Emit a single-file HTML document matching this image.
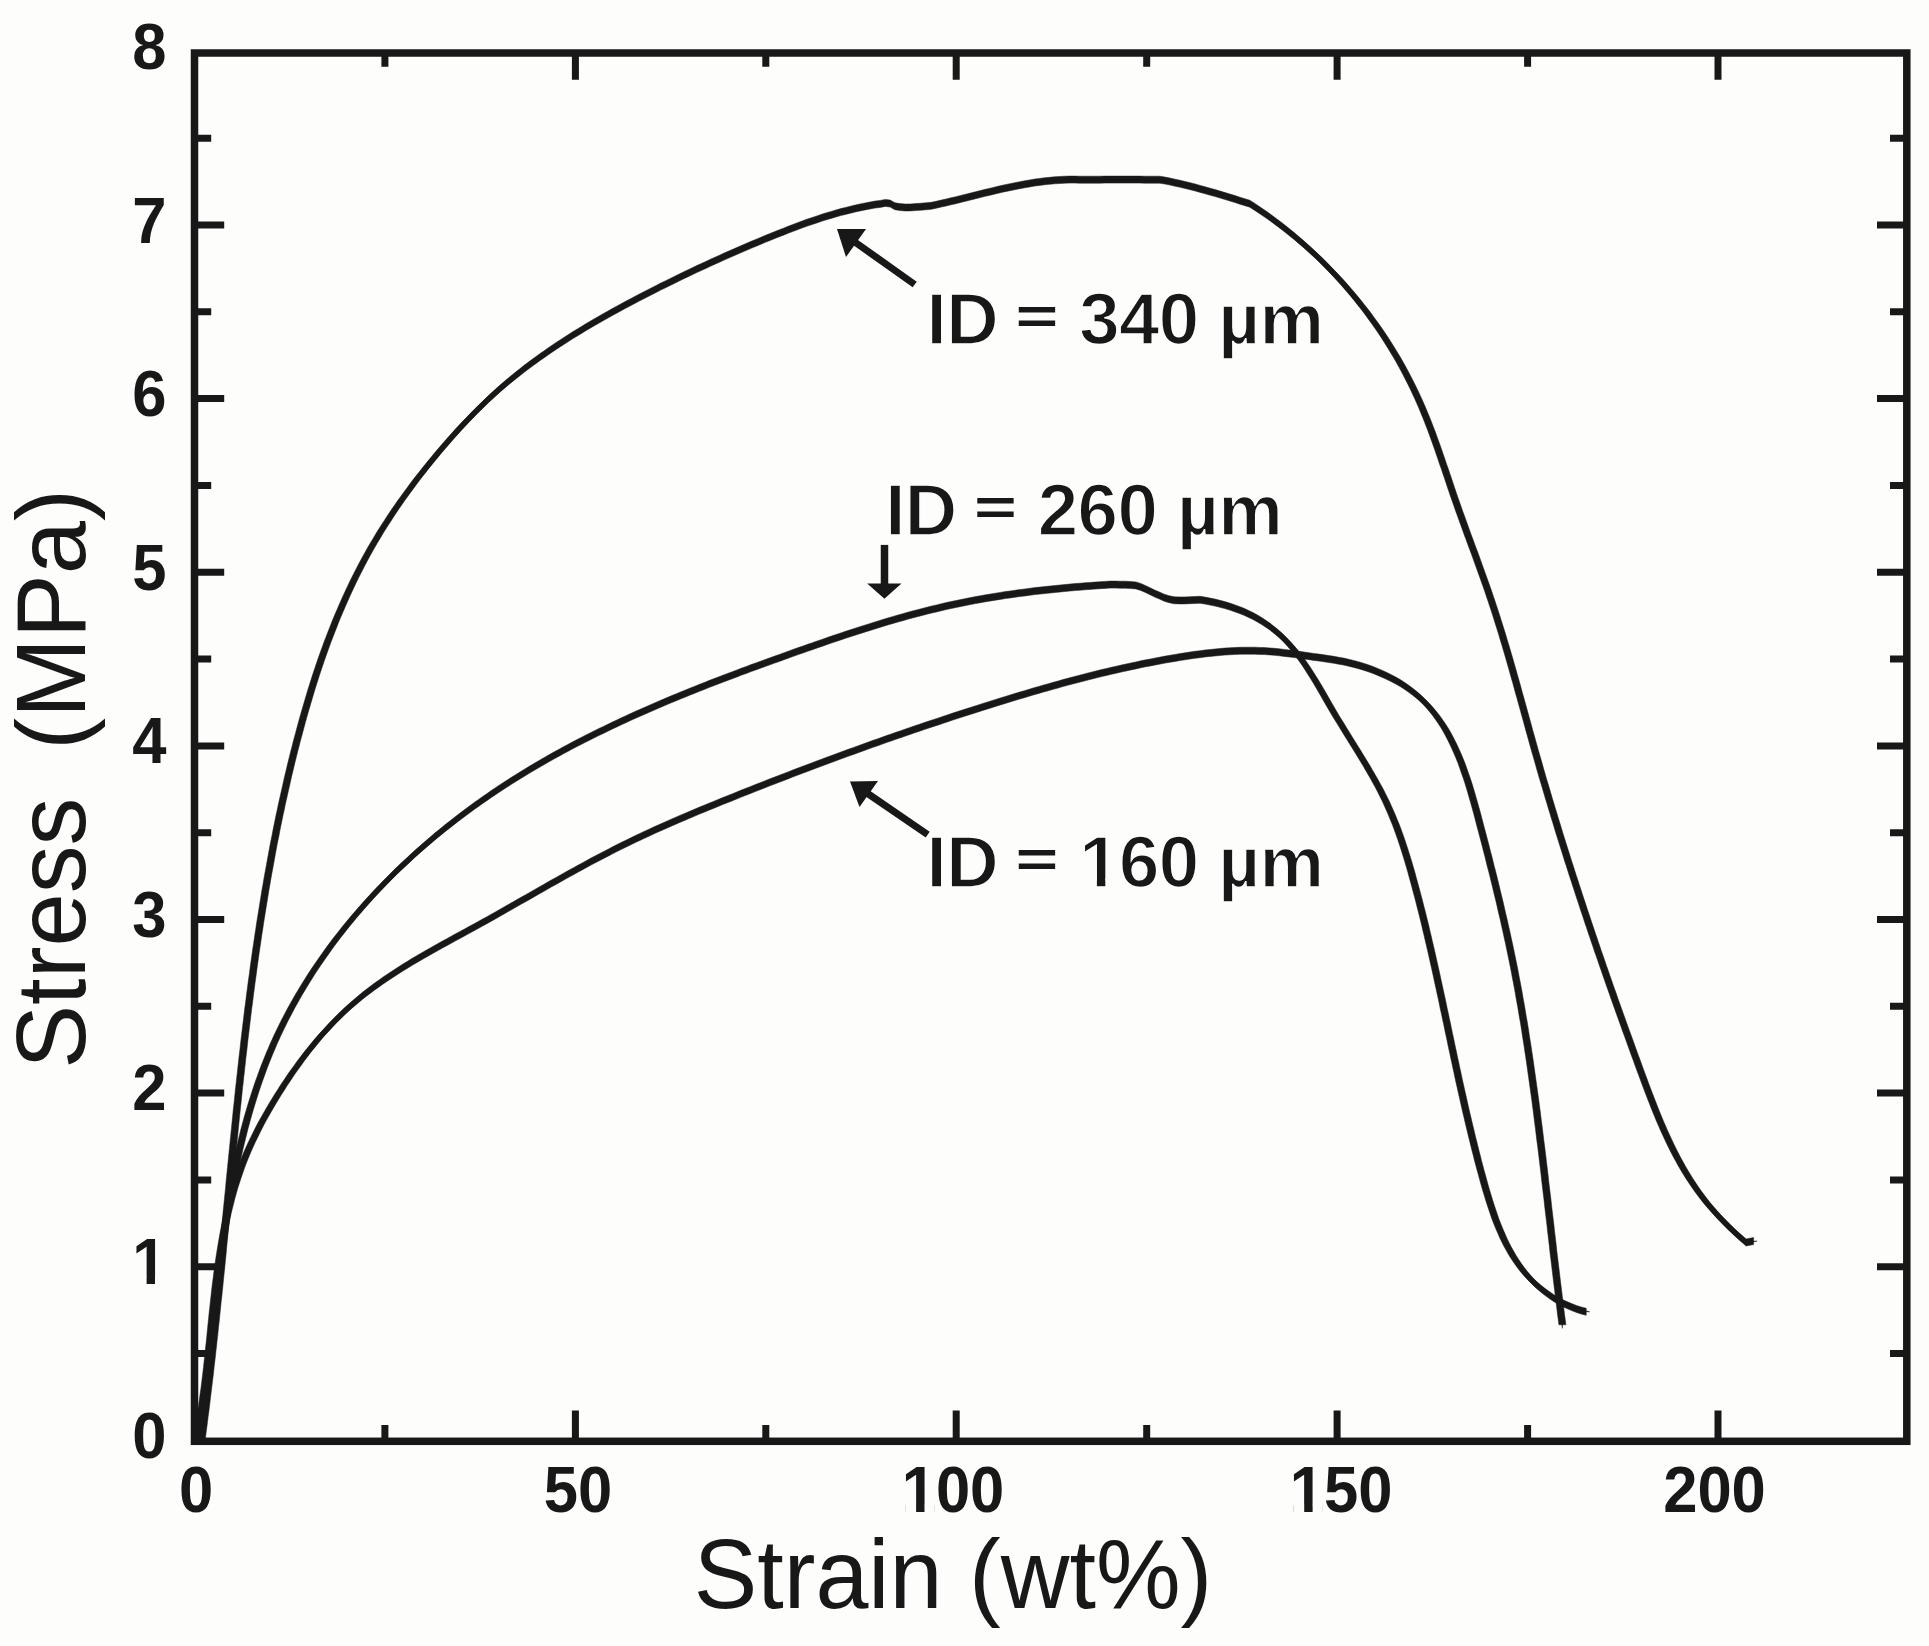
<!DOCTYPE html>
<html lang="en"><head><meta charset="utf-8"><title>Stress-strain curves</title>
<style>html,body{margin:0;padding:0;background:#fdfdfb;}body{width:1929px;height:1646px;overflow:hidden;}svg{display:block;}text{font-family:"Liberation Sans",sans-serif;fill:#181818;}.b{font-weight:700;}</style></head><body>
<svg width="1929" height="1646" viewBox="0 0 1929 1646">
<rect width="1929" height="1646" fill="#fdfdfb"/>
<path d="M197.2 1353.6h14.0M1904.0 1353.6h-14.0M197.2 1266.8h27.0M1904.0 1266.8h-27.0M197.2 1180.0h14.0M1904.0 1180.0h-14.0M197.2 1093.1h27.0M1904.0 1093.1h-27.0M197.2 1006.3h14.0M1904.0 1006.3h-14.0M197.2 919.5h27.0M1904.0 919.5h-27.0M197.2 832.7h14.0M1904.0 832.7h-14.0M197.2 745.9h27.0M1904.0 745.9h-27.0M197.2 659.1h14.0M1904.0 659.1h-14.0M197.2 572.3h27.0M1904.0 572.3h-27.0M197.2 485.4h14.0M1904.0 485.4h-14.0M197.2 398.6h27.0M1904.0 398.6h-27.0M197.2 311.8h14.0M1904.0 311.8h-14.0M197.2 225.0h27.0M1904.0 225.0h-27.0M197.2 138.2h14.0M1904.0 138.2h-14.0M384.9 1438.5v-13.5M384.9 55.8v11.0M575.4 1438.5v-28.0M575.4 55.8v24.0M765.8 1438.5v-13.5M765.8 55.8v11.0M956.2 1438.5v-28.0M956.2 55.8v24.0M1146.7 1438.5v-13.5M1146.7 55.8v11.0M1337.1 1438.5v-28.0M1337.1 55.8v24.0M1527.6 1438.5v-13.5M1527.6 55.8v11.0M1718.0 1438.5v-28.0M1718.0 55.8v24.0" stroke="#181818" stroke-width="7.0" fill="none"/>
<rect x="194.5" y="53.0" width="1712.3" height="1388.3" fill="none" stroke="#181818" stroke-width="7.5"/>
<g fill="#181818" stroke="#181818" stroke-width="0.5" stroke-linejoin="round">
<path d="M201.5 1444.5L202.2 1439.5L202.8 1434.6L203.5 1429.6L204.1 1424.6L204.7 1419.7L205.4 1414.7L206.0 1409.7L206.6 1404.7L207.2 1399.8L207.8 1394.8L208.4 1389.8L209.0 1384.8L209.6 1379.9L210.2 1374.9L210.7 1369.9L211.3 1364.9L211.9 1360.0L212.4 1355.0L213.0 1350.0L213.5 1345.0L214.1 1340.1L214.6 1335.1L215.1 1330.1L215.7 1325.1L216.2 1320.1L216.7 1315.2L217.2 1310.2L217.7 1305.2L218.3 1300.2L218.8 1295.3L219.3 1290.3L219.8 1285.3L220.3 1280.3L220.8 1275.3L221.3 1270.4L221.8 1265.4L222.3 1260.4L222.8 1255.4L223.2 1250.4L223.7 1245.5L224.2 1240.5L224.7 1235.5L225.2 1230.5L225.7 1225.5L226.2 1220.6L226.6 1215.6L227.1 1210.6L227.6 1205.6L228.1 1200.6L228.6 1195.7L229.1 1190.7L229.5 1185.7L230.0 1180.7L230.5 1175.7L231.0 1170.8L231.5 1165.8L232.0 1160.8L232.5 1155.8L233.0 1150.9L233.5 1145.9L234.0 1140.9L234.5 1135.9L235.0 1130.9L235.5 1126.0L236.0 1121.0L236.5 1116.0L237.0 1111.0L237.6 1106.1L238.1 1101.1L238.6 1096.1L239.1 1091.1L239.7 1086.2L240.2 1081.2L240.8 1076.2L241.3 1071.2L241.9 1066.3L242.4 1061.3L243.0 1056.3L243.6 1051.4L244.1 1046.4L244.7 1041.4L245.3 1036.4L245.9 1031.5L246.5 1026.5L247.1 1021.5L247.7 1016.6L248.3 1011.6L249.0 1006.6L249.6 1001.7L250.2 996.7L250.9 991.7L251.5 986.8L252.2 981.8L252.9 976.9L253.5 971.9L254.2 966.9L254.9 962.0L255.6 957.0L256.3 952.1L257.1 947.1L257.8 942.1L258.5 937.2L259.3 932.2L260.0 927.3L260.8 922.3L261.6 917.4L262.4 912.4L263.2 907.5L264.0 902.5L264.8 897.6L265.6 892.6L266.5 887.7L267.3 882.8L268.2 877.8L269.1 872.9L270.0 868.0L270.9 863.0L271.8 858.1L272.7 853.2L273.6 848.2L274.6 843.3L275.6 838.4L276.5 833.5L277.5 828.6L278.5 823.7L279.5 818.8L280.6 813.9L281.6 809.0L282.7 804.1L283.8 799.2L284.9 794.3L286.0 789.4L287.1 784.5L288.2 779.6L289.4 774.8L290.5 769.9L291.7 765.0L292.9 760.2L294.1 755.3L295.4 750.4L296.6 745.6L297.9 740.7L299.2 735.9L300.5 731.1L301.8 726.2L303.1 721.4L304.5 716.6L305.9 711.8L307.3 707.0L308.7 702.2L310.1 697.4L311.6 692.6L313.1 687.8L314.6 683.1L316.1 678.3L317.7 673.6L319.3 668.8L320.9 664.1L322.5 659.4L324.2 654.7L325.9 650.0L327.6 645.3L329.4 640.7L331.2 636.0L333.0 631.4L334.8 626.7L336.7 622.1L338.6 617.5L340.6 612.9L342.5 608.4L344.6 603.8L346.6 599.3L348.7 594.7L350.8 590.2L352.9 585.8L355.1 581.3L357.4 576.8L359.6 572.4L361.9 568.0L364.3 563.6L366.6 559.2L369.1 554.8L371.5 550.5L374.0 546.2L376.6 541.9L379.2 537.6L381.8 533.3L384.5 529.1L387.2 524.9L389.9 520.7L392.7 516.5L395.5 512.3L398.4 508.2L401.2 504.1L404.2 500.0L407.1 495.9L410.1 491.9L413.1 487.8L416.1 483.8L419.2 479.8L422.3 475.9L425.4 471.9L428.6 468.0L431.8 464.1L435.0 460.2L438.2 456.3L441.4 452.5L444.7 448.7L448.0 444.9L451.3 441.1L454.7 437.4L458.0 433.6L461.4 430.0L464.9 426.3L468.3 422.7L471.8 419.1L475.3 415.5L478.8 412.0L482.4 408.5L486.0 405.0L489.6 401.6L493.3 398.2L497.0 394.8L500.7 391.5L504.5 388.3L508.3 385.1L512.1 381.9L516.0 378.8L519.9 375.7L523.8 372.6L527.8 369.6L531.8 366.6L535.8 363.7L539.8 360.7L543.9 357.9L548.0 355.0L552.1 352.2L556.2 349.4L560.4 346.7L564.6 344.0L568.8 341.3L573.0 338.6L577.3 336.0L581.5 333.4L585.8 330.8L590.1 328.2L594.4 325.7L598.8 323.2L603.1 320.7L607.5 318.3L611.9 315.8L616.2 313.4L620.7 311.0L625.1 308.6L629.5 306.3L633.9 303.9L638.4 301.6L642.8 299.3L647.3 297.0L651.7 294.7L656.2 292.4L660.7 290.1L665.2 287.9L669.7 285.7L674.2 283.5L678.7 281.3L683.2 279.1L687.7 276.9L692.2 274.8L696.8 272.6L701.3 270.5L705.9 268.4L710.4 266.3L715.0 264.2L719.5 262.2L724.1 260.1L728.7 258.1L733.3 256.1L737.9 254.1L742.5 252.1L747.1 250.1L751.7 248.1L756.3 246.2L760.9 244.3L765.5 242.3L770.1 240.4L774.8 238.6L779.4 236.7L784.1 234.9L788.7 233.1L793.4 231.3L798.1 229.5L802.7 227.8L807.4 226.1L812.2 224.5L816.9 222.9L821.6 221.3L826.4 219.8L831.2 218.4L835.9 217.0L840.8 215.6L845.6 214.4L850.4 213.2L855.3 212.0L860.2 210.9L865.1 209.9L870.0 209.0L875.0 208.1L880.2 207.4L885.4 206.4L890.2 207.1L894.8 209.7L899.9 210.6L905.2 211.0L910.4 210.9L915.7 210.6L920.9 210.2L926.2 209.8L931.4 209.3L936.3 208.2L941.2 207.1L946.1 206.0L951.0 204.8L955.9 203.7L960.8 202.4L965.7 201.2L970.6 200.0L975.5 198.8L980.4 197.6L985.3 196.3L990.2 195.2L995.1 194.0L1000.1 192.8L1005.0 191.7L1009.9 190.7L1014.8 189.7L1019.8 188.7L1024.7 187.8L1029.7 186.9L1034.6 186.1L1039.6 185.4L1044.6 184.8L1049.6 184.3L1054.6 183.8L1059.6 183.5L1064.7 183.2L1069.7 183.1L1074.8 183.1L1079.9 183.2L1084.9 183.2L1089.9 183.2L1094.9 183.2L1099.9 183.2L1104.9 183.1L1109.9 183.1L1114.9 183.1L1119.9 183.1L1124.9 183.1L1129.9 183.1L1134.9 183.1L1139.9 183.1L1144.9 183.2L1149.9 183.2L1154.9 183.2L1159.9 183.2L1165.0 184.1L1170.1 185.1L1175.1 186.2L1180.2 187.3L1185.2 188.5L1190.2 189.7L1195.2 191.0L1200.2 192.4L1205.2 193.8L1210.2 195.2L1215.2 196.6L1220.1 198.1L1225.1 199.6L1230.0 201.1L1235.0 202.6L1239.9 204.2L1244.9 205.7L1249.8 207.2L1254.0 209.9L1258.2 212.7L1262.3 215.5L1266.4 218.3L1270.5 221.2L1274.5 224.2L1278.5 227.2L1282.5 230.2L1286.4 233.3L1290.3 236.5L1294.2 239.6L1298.0 242.9L1301.8 246.1L1305.6 249.4L1309.3 252.8L1313.0 256.2L1316.7 259.6L1320.3 263.1L1323.9 266.6L1327.4 270.2L1330.9 273.8L1334.4 277.4L1337.8 281.1L1341.2 284.8L1344.6 288.6L1347.9 292.4L1351.2 296.2L1354.4 300.1L1357.6 303.9L1360.7 307.9L1363.8 311.8L1366.9 315.8L1369.9 319.9L1372.8 323.9L1375.8 328.0L1378.6 332.1L1381.5 336.3L1384.3 340.5L1387.0 344.7L1389.7 348.9L1392.3 353.2L1394.9 357.5L1397.5 361.8L1400.0 366.2L1402.4 370.6L1404.8 375.0L1407.1 379.4L1409.4 383.9L1411.7 388.4L1413.9 392.9L1416.0 397.4L1418.1 401.9L1420.1 406.5L1422.1 411.1L1424.0 415.7L1425.9 420.3L1427.8 425.0L1429.6 429.7L1431.4 434.3L1433.1 439.0L1434.8 443.7L1436.5 448.4L1438.2 453.2L1439.8 457.9L1441.4 462.6L1443.0 467.4L1444.7 472.1L1446.3 476.9L1447.9 481.6L1449.5 486.4L1451.1 491.2L1452.7 495.9L1454.3 500.7L1456.0 505.4L1457.6 510.1L1459.3 514.9L1461.0 519.6L1462.7 524.3L1464.4 529.0L1466.1 533.8L1467.8 538.5L1469.6 543.2L1471.3 547.9L1473.0 552.6L1474.8 557.3L1476.5 562.0L1478.2 566.8L1479.9 571.5L1481.6 576.2L1483.3 580.9L1485.0 585.7L1486.7 590.4L1488.3 595.1L1489.9 599.9L1491.5 604.6L1493.1 609.4L1494.7 614.2L1496.2 618.9L1497.7 623.7L1499.2 628.5L1500.7 633.3L1502.2 638.1L1503.6 642.9L1505.1 647.7L1506.5 652.5L1507.9 657.3L1509.3 662.1L1510.7 667.0L1512.1 671.8L1513.4 676.6L1514.8 681.4L1516.2 686.3L1517.5 691.1L1518.8 696.0L1520.2 700.8L1521.5 705.6L1522.9 710.5L1524.2 715.3L1525.5 720.1L1526.9 725.0L1528.2 729.8L1529.5 734.7L1530.9 739.5L1532.2 744.3L1533.6 749.2L1534.9 754.0L1536.3 758.8L1537.7 763.6L1539.1 768.5L1540.4 773.3L1541.8 778.1L1543.2 782.9L1544.7 787.7L1546.1 792.5L1547.5 797.3L1548.9 802.1L1550.4 806.9L1551.8 811.7L1553.3 816.5L1554.7 821.3L1556.2 826.1L1557.7 830.9L1559.1 835.7L1560.6 840.5L1562.1 845.3L1563.6 850.1L1565.1 854.8L1566.6 859.6L1568.1 864.4L1569.7 869.2L1571.2 874.0L1572.7 878.7L1574.3 883.5L1575.8 888.3L1577.4 893.0L1578.9 897.8L1580.5 902.6L1582.1 907.3L1583.6 912.1L1585.2 916.8L1586.8 921.6L1588.4 926.4L1590.0 931.1L1591.6 935.9L1593.2 940.6L1594.8 945.4L1596.4 950.1L1598.0 954.9L1599.7 959.6L1601.3 964.3L1602.9 969.1L1604.6 973.8L1606.2 978.6L1607.9 983.3L1609.5 988.1L1611.2 992.8L1612.9 997.5L1614.5 1002.3L1616.2 1007.0L1617.9 1011.7L1619.6 1016.5L1621.3 1021.2L1623.0 1025.9L1624.7 1030.7L1626.4 1035.4L1628.1 1040.1L1629.8 1044.8L1631.5 1049.6L1633.2 1054.3L1634.9 1059.0L1636.7 1063.7L1638.4 1068.5L1640.1 1073.2L1641.9 1077.9L1643.6 1082.6L1645.3 1087.3L1647.1 1092.1L1648.9 1096.8L1650.7 1101.4L1652.5 1106.1L1654.3 1110.8L1656.2 1115.4L1658.1 1120.1L1660.0 1124.7L1662.0 1129.3L1664.0 1133.9L1666.1 1138.4L1668.2 1142.9L1670.3 1147.4L1672.5 1151.9L1674.7 1156.3L1677.0 1160.7L1679.4 1165.1L1681.8 1169.4L1684.3 1173.7L1686.9 1178.0L1689.5 1182.2L1692.2 1186.3L1695.0 1190.4L1697.8 1194.5L1700.8 1198.5L1703.8 1202.5L1706.9 1206.4L1710.1 1210.2L1713.4 1214.0L1716.8 1217.8L1720.2 1221.5L1723.7 1225.1L1727.3 1228.7L1730.9 1232.3L1734.6 1235.8L1738.4 1239.2L1742.2 1242.6L1746.0 1246.0L1753.6 1244.6L1753.6 1237.6L1746.0 1239.0L1742.2 1235.6L1738.4 1232.2L1734.6 1228.8L1730.9 1225.3L1727.3 1221.7L1723.7 1218.1L1720.2 1214.5L1716.8 1210.8L1713.4 1207.0L1710.1 1203.2L1706.9 1199.4L1703.8 1195.5L1700.8 1191.5L1697.8 1187.5L1695.0 1183.4L1692.2 1179.3L1689.5 1175.2L1686.9 1171.0L1684.3 1166.7L1681.8 1162.4L1679.4 1158.1L1677.0 1153.7L1674.7 1149.3L1672.5 1144.9L1670.3 1140.4L1668.2 1135.9L1666.1 1131.4L1664.0 1126.9L1662.0 1122.3L1660.0 1117.7L1658.1 1113.1L1656.2 1108.4L1654.3 1103.8L1652.5 1099.1L1650.7 1094.4L1648.9 1089.8L1647.1 1085.1L1645.3 1080.3L1643.6 1075.6L1641.9 1070.9L1640.1 1066.2L1638.4 1061.5L1636.7 1056.7L1634.9 1052.0L1633.2 1047.3L1631.5 1042.6L1629.8 1037.8L1628.1 1033.1L1626.4 1028.4L1624.7 1023.7L1623.0 1018.9L1621.3 1014.2L1619.6 1009.5L1617.9 1004.7L1616.2 1000.0L1614.5 995.3L1612.9 990.5L1611.2 985.8L1609.5 981.1L1607.9 976.3L1606.2 971.6L1604.6 966.8L1602.9 962.1L1601.3 957.3L1599.7 952.6L1598.0 947.9L1596.4 943.1L1594.8 938.4L1593.2 933.6L1591.6 928.9L1590.0 924.1L1588.4 919.4L1586.8 914.6L1585.2 909.8L1583.6 905.1L1582.1 900.3L1580.5 895.6L1578.9 890.8L1577.4 886.0L1575.8 881.3L1574.3 876.5L1572.7 871.7L1571.2 867.0L1569.7 862.2L1568.1 857.4L1566.6 852.6L1565.1 847.8L1563.6 843.1L1562.1 838.3L1560.6 833.5L1559.1 828.7L1557.7 823.9L1556.2 819.1L1554.7 814.3L1553.3 809.5L1551.8 804.7L1550.4 799.9L1548.9 795.1L1547.5 790.3L1546.1 785.5L1544.7 780.7L1543.2 775.9L1541.8 771.1L1540.4 766.3L1539.1 761.5L1537.7 756.6L1536.3 751.8L1534.9 747.0L1533.6 742.2L1532.2 737.3L1530.9 732.5L1529.5 727.7L1528.2 722.8L1526.9 718.0L1525.5 713.1L1524.2 708.3L1522.9 703.5L1521.5 698.6L1520.2 693.8L1518.8 689.0L1517.5 684.1L1516.2 679.3L1514.8 674.4L1513.4 669.6L1512.1 664.8L1510.7 660.0L1509.3 655.1L1507.9 650.3L1506.5 645.5L1505.1 640.7L1503.6 635.9L1502.2 631.1L1500.7 626.3L1499.2 621.5L1497.7 616.7L1496.2 611.9L1494.7 607.2L1493.1 602.4L1491.5 597.6L1489.9 592.9L1488.3 588.1L1486.7 583.4L1485.0 578.7L1483.3 573.9L1481.6 569.2L1479.9 564.5L1478.2 559.8L1476.5 555.0L1474.8 550.3L1473.0 545.6L1471.3 540.9L1469.6 536.2L1467.8 531.5L1466.1 526.8L1464.4 522.0L1462.7 517.3L1461.0 512.6L1459.3 507.9L1457.6 503.1L1456.0 498.4L1454.3 493.7L1452.7 488.9L1451.1 484.2L1449.5 479.4L1447.9 474.6L1446.3 469.9L1444.7 465.1L1443.0 460.4L1441.4 455.6L1439.8 450.9L1438.2 446.2L1436.5 441.4L1434.8 436.7L1433.1 432.0L1431.4 427.3L1429.6 422.7L1427.8 418.0L1425.9 413.3L1424.0 408.7L1422.1 404.1L1420.1 399.5L1418.1 394.9L1416.0 390.4L1413.9 385.9L1411.7 381.4L1409.4 376.9L1407.1 372.4L1404.8 368.0L1402.4 363.6L1400.0 359.2L1397.5 354.8L1394.9 350.5L1392.3 346.2L1389.7 341.9L1387.0 337.7L1384.3 333.5L1381.5 329.3L1378.6 325.1L1375.8 321.0L1372.8 316.9L1369.9 312.9L1366.9 308.8L1363.8 304.8L1360.7 300.9L1357.6 296.9L1354.4 293.1L1351.2 289.2L1347.9 285.4L1344.6 281.6L1341.2 277.8L1337.8 274.1L1334.4 270.4L1330.9 266.8L1327.4 263.2L1323.9 259.6L1320.3 256.1L1316.7 252.6L1313.0 249.2L1309.3 245.8L1305.6 242.4L1301.8 239.1L1298.0 235.9L1294.2 232.6L1290.3 229.5L1286.4 226.3L1282.5 223.2L1278.5 220.2L1274.5 217.2L1270.5 214.2L1266.4 211.3L1262.3 208.5L1258.2 205.7L1254.0 202.9L1249.8 200.2L1244.9 198.7L1239.9 197.2L1235.0 195.6L1230.0 194.1L1225.1 192.6L1220.1 191.1L1215.2 189.6L1210.2 188.2L1205.2 186.8L1200.2 185.4L1195.2 184.0L1190.2 182.7L1185.2 181.5L1180.2 180.3L1175.1 179.2L1170.1 178.1L1165.0 177.1L1159.9 176.2L1154.9 176.2L1149.9 176.2L1144.9 176.2L1139.9 176.1L1134.9 176.1L1129.9 176.1L1124.9 176.1L1119.9 176.1L1114.9 176.1L1109.9 176.1L1104.9 176.1L1099.9 176.2L1094.9 176.2L1089.9 176.2L1084.9 176.2L1079.9 176.2L1074.8 176.1L1069.7 176.1L1064.7 176.2L1059.6 176.5L1054.6 176.8L1049.6 177.3L1044.6 177.8L1039.6 178.4L1034.6 179.1L1029.7 179.9L1024.7 180.8L1019.8 181.7L1014.8 182.7L1009.9 183.7L1005.0 184.7L1000.1 185.8L995.1 187.0L990.2 188.2L985.3 189.3L980.4 190.6L975.5 191.8L970.6 193.0L965.7 194.2L960.8 195.4L955.9 196.7L951.0 197.8L946.1 199.0L941.2 200.1L936.3 201.2L931.4 202.3L926.2 202.8L920.9 203.2L915.7 203.6L910.4 203.9L905.2 204.0L899.9 203.6L894.8 202.7L890.2 200.1L885.4 199.4L880.2 200.4L875.0 201.1L870.0 202.0L865.1 202.9L860.2 203.9L855.3 205.0L850.4 206.2L845.6 207.4L840.8 208.6L835.9 210.0L831.2 211.4L826.4 212.8L821.6 214.3L816.9 215.9L812.2 217.5L807.4 219.1L802.7 220.8L798.1 222.5L793.4 224.3L788.7 226.1L784.1 227.9L779.4 229.7L774.8 231.6L770.1 233.4L765.5 235.3L760.9 237.3L756.3 239.2L751.7 241.1L747.1 243.1L742.5 245.1L737.9 247.1L733.3 249.1L728.7 251.1L724.1 253.1L719.5 255.2L715.0 257.2L710.4 259.3L705.9 261.4L701.3 263.5L696.8 265.6L692.2 267.8L687.7 269.9L683.2 272.1L678.7 274.3L674.2 276.5L669.7 278.7L665.2 280.9L660.7 283.1L656.2 285.4L651.7 287.7L647.3 290.0L642.8 292.3L638.4 294.6L633.9 296.9L629.5 299.3L625.1 301.6L620.7 304.0L616.2 306.4L611.9 308.8L607.5 311.3L603.1 313.7L598.8 316.2L594.4 318.7L590.1 321.2L585.8 323.8L581.5 326.4L577.3 329.0L573.0 331.6L568.8 334.3L564.6 337.0L560.4 339.7L556.2 342.4L552.1 345.2L548.0 348.0L543.9 350.9L539.8 353.7L535.8 356.7L531.8 359.6L527.8 362.6L523.8 365.6L519.9 368.7L516.0 371.8L512.1 374.9L508.3 378.1L504.5 381.3L500.7 384.5L497.0 387.8L493.3 391.2L489.6 394.6L486.0 398.0L482.4 401.5L478.8 405.0L475.3 408.5L471.8 412.1L468.3 415.7L464.9 419.3L461.4 423.0L458.0 426.6L454.7 430.4L451.3 434.1L448.0 437.9L444.7 441.7L441.4 445.5L438.2 449.3L435.0 453.2L431.8 457.1L428.6 461.0L425.4 464.9L422.3 468.9L419.2 472.8L416.1 476.8L413.1 480.8L410.1 484.9L407.1 488.9L404.2 493.0L401.2 497.1L398.4 501.2L395.5 505.3L392.7 509.5L389.9 513.7L387.2 517.9L384.5 522.1L381.8 526.3L379.2 530.6L376.6 534.9L374.0 539.2L371.5 543.5L369.1 547.8L366.6 552.2L364.3 556.6L361.9 561.0L359.6 565.4L357.4 569.8L355.1 574.3L352.9 578.8L350.8 583.2L348.7 587.7L346.6 592.3L344.6 596.8L342.5 601.4L340.6 605.9L338.6 610.5L336.7 615.1L334.8 619.7L333.0 624.4L331.2 629.0L329.4 633.7L327.6 638.3L325.9 643.0L324.2 647.7L322.5 652.4L320.9 657.1L319.3 661.8L317.7 666.6L316.1 671.3L314.6 676.1L313.1 680.8L311.6 685.6L310.1 690.4L308.7 695.2L307.3 700.0L305.9 704.8L304.5 709.6L303.1 714.4L301.8 719.2L300.5 724.1L299.2 728.9L297.9 733.7L296.6 738.6L295.4 743.4L294.1 748.3L292.9 753.2L291.7 758.0L290.5 762.9L289.4 767.8L288.2 772.6L287.1 777.5L286.0 782.4L284.9 787.3L283.8 792.2L282.7 797.1L281.6 802.0L280.6 806.9L279.5 811.8L278.5 816.7L277.5 821.6L276.5 826.5L275.6 831.4L274.6 836.3L273.6 841.2L272.7 846.2L271.8 851.1L270.9 856.0L270.0 861.0L269.1 865.9L268.2 870.8L267.3 875.8L266.5 880.7L265.6 885.6L264.8 890.6L264.0 895.5L263.2 900.5L262.4 905.4L261.6 910.4L260.8 915.3L260.0 920.3L259.3 925.2L258.5 930.2L257.8 935.1L257.1 940.1L256.3 945.1L255.6 950.0L254.9 955.0L254.2 959.9L253.5 964.9L252.9 969.9L252.2 974.8L251.5 979.8L250.9 984.7L250.2 989.7L249.6 994.7L249.0 999.6L248.3 1004.6L247.7 1009.6L247.1 1014.5L246.5 1019.5L245.9 1024.5L245.3 1029.4L244.7 1034.4L244.1 1039.4L243.6 1044.4L243.0 1049.3L242.4 1054.3L241.9 1059.3L241.3 1064.2L240.8 1069.2L240.2 1074.2L239.7 1079.2L239.1 1084.1L238.6 1089.1L238.1 1094.1L237.6 1099.1L237.0 1104.0L236.5 1109.0L236.0 1114.0L235.5 1119.0L235.0 1123.9L234.5 1128.9L234.0 1133.9L233.5 1138.9L233.0 1143.9L232.5 1148.8L232.0 1153.8L231.5 1158.8L231.0 1163.8L230.5 1168.7L230.0 1173.7L229.5 1178.7L229.1 1183.7L228.6 1188.7L228.1 1193.6L227.6 1198.6L227.1 1203.6L226.6 1208.6L226.2 1213.6L225.7 1218.5L225.2 1223.5L224.7 1228.5L224.2 1233.5L223.7 1238.5L223.2 1243.4L222.8 1248.4L222.3 1253.4L221.8 1258.4L221.3 1263.4L220.8 1268.3L220.3 1273.3L219.8 1278.3L219.3 1283.3L218.8 1288.3L218.3 1293.2L217.7 1298.2L217.2 1303.2L216.7 1308.2L216.2 1313.1L215.7 1318.1L215.1 1323.1L214.6 1328.1L214.1 1333.1L213.5 1338.0L213.0 1343.0L212.4 1348.0L211.9 1353.0L211.3 1357.9L210.7 1362.9L210.2 1367.9L209.6 1372.9L209.0 1377.8L208.4 1382.8L207.8 1387.8L207.2 1392.8L206.6 1397.7L206.0 1402.7L205.4 1407.7L204.7 1412.7L204.1 1417.6L203.5 1422.6L202.8 1427.6L202.2 1432.5L201.5 1437.5Z"/>
<path d="M205.0 1441.0L205.7 1436.0L206.3 1431.1L207.0 1426.1L207.6 1421.1L208.2 1416.2L208.9 1411.2L209.5 1406.2L210.1 1401.2L210.7 1396.3L211.3 1391.3L211.9 1386.3L212.5 1381.3L213.1 1376.4L213.7 1371.4L214.2 1366.4L214.8 1361.4L215.4 1356.5L215.9 1351.5L216.5 1346.5L217.0 1341.5L217.6 1336.6L218.1 1331.6L218.6 1326.6L219.2 1321.6L219.7 1316.6L220.2 1311.7L220.7 1306.7L221.2 1301.7L221.8 1296.7L222.3 1291.8L222.8 1286.8L223.3 1281.8L223.8 1276.8L224.3 1271.8L224.8 1266.9L225.3 1261.9L225.8 1256.9L226.3 1251.9L226.7 1246.9L227.2 1242.0L227.7 1237.0L228.2 1232.0L228.7 1227.0L229.2 1222.0L229.7 1217.1L230.1 1212.1L230.6 1207.1L231.1 1202.1L231.6 1197.1L232.1 1192.2L232.6 1187.2L233.0 1182.2L233.5 1177.2L234.0 1172.2L234.5 1167.3L235.0 1162.3L235.5 1157.3L236.0 1152.3L236.5 1147.4L237.0 1142.4L237.5 1137.4L238.0 1132.4L238.5 1127.4L239.0 1122.5L239.5 1117.5L240.0 1112.5L240.5 1107.5L241.1 1102.6L241.6 1097.6L242.1 1092.6L242.6 1087.6L243.2 1082.7L243.7 1077.7L244.3 1072.7L244.8 1067.7L245.4 1062.8L245.9 1057.8L246.5 1052.8L247.1 1047.9L247.6 1042.9L248.2 1037.9L248.8 1032.9L249.4 1028.0L250.0 1023.0L250.6 1018.0L251.2 1013.1L251.8 1008.1L252.5 1003.1L253.1 998.2L253.7 993.2L254.4 988.2L255.0 983.3L255.7 978.3L256.4 973.4L257.0 968.4L257.7 963.4L258.4 958.5L259.1 953.5L259.8 948.6L260.6 943.6L261.3 938.6L262.0 933.7L262.8 928.7L263.5 923.8L264.3 918.8L265.1 913.9L265.9 908.9L266.7 904.0L267.5 899.0L268.3 894.1L269.1 889.1L270.0 884.2L270.8 879.3L271.7 874.3L272.6 869.4L273.5 864.5L274.4 859.5L275.3 854.6L276.2 849.7L277.1 844.7L278.1 839.8L279.1 834.9L280.0 830.0L281.0 825.1L282.0 820.2L283.0 815.3L284.1 810.4L285.1 805.5L286.2 800.6L287.3 795.7L288.4 790.8L289.5 785.9L290.6 781.0L291.7 776.1L292.9 771.3L294.0 766.4L295.2 761.5L296.4 756.7L297.6 751.8L298.9 746.9L300.1 742.1L301.4 737.2L302.7 732.4L304.0 727.6L305.3 722.7L306.6 717.9L308.0 713.1L309.4 708.3L310.8 703.5L312.2 698.7L313.6 693.9L315.1 689.1L316.6 684.3L318.1 679.6L319.6 674.8L321.2 670.1L322.8 665.3L324.4 660.6L326.0 655.9L327.7 651.2L329.4 646.5L331.1 641.8L332.9 637.2L334.7 632.5L336.5 627.9L338.3 623.2L340.2 618.6L342.1 614.0L344.1 609.4L346.0 604.9L348.1 600.3L350.1 595.8L352.2 591.2L354.3 586.7L356.4 582.3L358.6 577.8L360.9 573.3L363.1 568.9L365.4 564.5L367.8 560.1L370.1 555.7L372.6 551.3L375.0 547.0L377.5 542.7L380.1 538.4L382.7 534.1L385.3 529.8L388.0 525.6L390.7 521.4L393.4 517.2L396.2 513.0L399.0 508.8L401.9 504.7L404.7 500.6L407.7 496.5L410.6 492.4L413.6 488.4L416.6 484.3L419.6 480.3L422.7 476.3L425.8 472.4L428.9 468.4L432.1 464.5L435.3 460.6L438.5 456.7L441.7 452.8L444.9 449.0L448.2 445.2L451.5 441.4L454.8 437.6L458.2 433.9L461.5 430.1L464.9 426.5L468.4 422.8L471.8 419.2L475.3 415.6L478.8 412.0L482.3 408.5L485.9 405.0L489.5 401.5L493.1 398.1L496.8 394.7L500.5 391.3L504.2 388.0L508.0 384.8L511.8 381.6L515.6 378.4L519.5 375.3L523.4 372.2L527.3 369.1L531.3 366.1L535.3 363.1L539.3 360.2L543.3 357.2L547.4 354.4L551.5 351.5L555.6 348.7L559.7 345.9L563.9 343.2L568.1 340.5L572.3 337.8L576.5 335.1L580.8 332.5L585.0 329.9L589.3 327.3L593.6 324.7L597.9 322.2L602.3 319.7L606.6 317.2L611.0 314.8L615.4 312.3L619.7 309.9L624.2 307.5L628.6 305.1L633.0 302.8L637.4 300.4L641.9 298.1L646.3 295.8L650.8 293.5L655.2 291.2L659.7 288.9L664.2 286.6L668.7 284.4L673.2 282.2L677.7 280.0L682.2 277.8L686.7 275.6L691.2 273.4L695.7 271.3L700.3 269.1L704.8 267.0L709.4 264.9L713.9 262.8L718.5 260.7L723.0 258.7L727.6 256.6L732.2 254.6L736.8 252.6L741.4 250.6L746.0 248.6L750.6 246.6L755.2 244.6L759.8 242.7L764.4 240.8L769.0 238.8L773.6 236.9L778.3 235.1L782.9 233.2L787.6 231.4L792.2 229.6L796.9 227.8L801.6 226.0L806.2 224.3L810.9 222.6L815.7 221.0L820.4 219.4L825.1 217.8L829.9 216.3L834.7 214.9L839.4 213.5L844.3 212.1L849.1 210.9L853.9 209.7L858.8 208.5L863.7 207.4L868.6 206.4L873.5 205.5L878.5 204.6L883.7 203.9L888.9 202.9L893.7 203.6L898.3 206.2L903.4 207.1L908.7 207.5L913.9 207.4L919.2 207.1L924.4 206.7L929.7 206.3L934.9 205.8L939.8 204.7L944.7 203.6L949.6 202.5L954.5 201.3L959.4 200.2L964.3 198.9L969.2 197.7L974.1 196.5L979.0 195.3L983.9 194.1L988.8 192.8L993.7 191.7L998.6 190.5L1003.6 189.3L1008.5 188.2L1013.4 187.2L1018.3 186.2L1023.3 185.2L1028.2 184.3L1033.2 183.4L1038.1 182.6L1043.1 181.9L1048.1 181.3L1053.1 180.8L1058.1 180.3L1063.1 180.0L1068.2 179.7L1073.2 179.6L1078.3 179.6L1083.4 179.7L1088.4 179.7L1093.4 179.7L1098.4 179.7L1103.4 179.7L1108.4 179.6L1113.4 179.6L1118.4 179.6L1123.4 179.6L1128.4 179.6L1133.4 179.6L1138.4 179.6L1143.4 179.6L1148.4 179.7L1153.4 179.7L1158.4 179.7L1163.4 179.7L1168.5 180.6L1173.6 181.6L1178.6 182.7L1183.7 183.8L1188.7 185.0L1193.7 186.2L1198.7 187.5L1203.7 188.9L1208.7 190.3L1213.7 191.7L1218.7 193.1L1223.6 194.6L1228.6 196.1L1233.5 197.6L1238.5 199.1L1243.4 200.7L1248.4 202.2L1253.3 203.7L1257.5 206.4L1261.7 209.2L1265.8 212.0L1269.9 214.8L1274.0 217.7L1278.0 220.7L1282.0 223.7L1286.0 226.7L1289.9 229.8L1293.8 233.0L1297.7 236.1L1301.5 239.4L1305.3 242.6L1309.1 245.9L1312.8 249.3L1316.5 252.7L1320.2 256.1L1323.8 259.6L1327.4 263.1L1330.9 266.7L1334.4 270.3L1337.9 273.9L1341.3 277.6L1344.7 281.3L1348.1 285.1L1351.4 288.9L1354.7 292.7L1357.9 296.6L1361.1 300.4L1364.2 304.4L1367.3 308.3L1370.4 312.3L1373.4 316.4L1376.3 320.4L1379.3 324.5L1382.1 328.6L1385.0 332.8L1387.8 337.0L1390.5 341.2L1393.2 345.4L1395.8 349.7L1398.4 354.0L1401.0 358.3L1403.5 362.7L1405.9 367.1L1408.3 371.5L1410.6 375.9L1412.9 380.4L1415.2 384.9L1417.4 389.4L1419.5 393.9L1421.6 398.4L1423.6 403.0L1425.6 407.6L1427.5 412.2L1429.4 416.8L1431.3 421.5L1433.1 426.2L1434.9 430.8L1436.6 435.5L1438.3 440.2L1440.0 444.9L1441.7 449.7L1443.3 454.4L1444.9 459.1L1446.5 463.9L1448.2 468.6L1449.8 473.4L1451.4 478.1L1453.0 482.9L1454.6 487.7L1456.2 492.4L1457.8 497.2L1459.5 501.9L1461.1 506.6L1462.8 511.4L1464.5 516.1L1466.2 520.8L1467.9 525.5L1469.6 530.3L1471.3 535.0L1473.1 539.7L1474.8 544.4L1476.5 549.1L1478.3 553.8L1480.0 558.5L1481.7 563.3L1483.4 568.0L1485.1 572.7L1486.8 577.4L1488.5 582.2L1490.2 586.9L1491.8 591.6L1493.4 596.4L1495.0 601.1L1496.6 605.9L1498.2 610.7L1499.7 615.4L1501.2 620.2L1502.7 625.0L1504.2 629.8L1505.7 634.6L1507.1 639.4L1508.6 644.2L1510.0 649.0L1511.4 653.8L1512.8 658.6L1514.2 663.5L1515.6 668.3L1516.9 673.1L1518.3 677.9L1519.7 682.8L1521.0 687.6L1522.3 692.5L1523.7 697.3L1525.0 702.1L1526.4 707.0L1527.7 711.8L1529.0 716.6L1530.4 721.5L1531.7 726.3L1533.0 731.2L1534.4 736.0L1535.7 740.8L1537.1 745.7L1538.4 750.5L1539.8 755.3L1541.2 760.1L1542.6 765.0L1543.9 769.8L1545.3 774.6L1546.7 779.4L1548.2 784.2L1549.6 789.0L1551.0 793.8L1552.4 798.6L1553.9 803.4L1555.3 808.2L1556.8 813.0L1558.2 817.8L1559.7 822.6L1561.2 827.4L1562.6 832.2L1564.1 837.0L1565.6 841.8L1567.1 846.6L1568.6 851.3L1570.1 856.1L1571.6 860.9L1573.2 865.7L1574.7 870.5L1576.2 875.2L1577.8 880.0L1579.3 884.8L1580.9 889.5L1582.4 894.3L1584.0 899.1L1585.6 903.8L1587.1 908.6L1588.7 913.3L1590.3 918.1L1591.9 922.9L1593.5 927.6L1595.1 932.4L1596.7 937.1L1598.3 941.9L1599.9 946.6L1601.5 951.4L1603.2 956.1L1604.8 960.8L1606.4 965.6L1608.1 970.3L1609.7 975.1L1611.4 979.8L1613.0 984.6L1614.7 989.3L1616.4 994.0L1618.0 998.8L1619.7 1003.5L1621.4 1008.2L1623.1 1013.0L1624.8 1017.7L1626.5 1022.4L1628.2 1027.2L1629.9 1031.9L1631.6 1036.6L1633.3 1041.3L1635.0 1046.1L1636.7 1050.8L1638.4 1055.5L1640.2 1060.2L1641.9 1065.0L1643.6 1069.7L1645.4 1074.4L1647.1 1079.1L1648.8 1083.8L1650.6 1088.6L1652.4 1093.3L1654.2 1097.9L1656.0 1102.6L1657.8 1107.3L1659.7 1111.9L1661.6 1116.6L1663.5 1121.2L1665.5 1125.8L1667.5 1130.4L1669.6 1134.9L1671.7 1139.4L1673.8 1143.9L1676.0 1148.4L1678.2 1152.8L1680.5 1157.2L1682.9 1161.6L1685.3 1165.9L1687.8 1170.2L1690.4 1174.5L1693.0 1178.7L1695.7 1182.8L1698.5 1186.9L1701.3 1191.0L1704.3 1195.0L1707.3 1199.0L1710.4 1202.9L1713.6 1206.7L1716.9 1210.5L1720.3 1214.3L1723.7 1218.0L1727.2 1221.6L1730.8 1225.2L1734.4 1228.8L1738.1 1232.3L1741.9 1235.7L1745.7 1239.1L1749.5 1242.5L1757.1 1241.1L1750.1 1241.1L1742.5 1242.5L1738.7 1239.1L1734.9 1235.7L1731.1 1232.3L1727.4 1228.8L1723.8 1225.2L1720.2 1221.6L1716.7 1218.0L1713.3 1214.3L1709.9 1210.5L1706.6 1206.7L1703.4 1202.9L1700.3 1199.0L1697.3 1195.0L1694.3 1191.0L1691.5 1186.9L1688.7 1182.8L1686.0 1178.7L1683.4 1174.5L1680.8 1170.2L1678.3 1165.9L1675.9 1161.6L1673.5 1157.2L1671.2 1152.8L1669.0 1148.4L1666.8 1143.9L1664.7 1139.4L1662.6 1134.9L1660.5 1130.4L1658.5 1125.8L1656.5 1121.2L1654.6 1116.6L1652.7 1111.9L1650.8 1107.3L1649.0 1102.6L1647.2 1097.9L1645.4 1093.3L1643.6 1088.6L1641.8 1083.8L1640.1 1079.1L1638.4 1074.4L1636.6 1069.7L1634.9 1065.0L1633.2 1060.2L1631.4 1055.5L1629.7 1050.8L1628.0 1046.1L1626.3 1041.3L1624.6 1036.6L1622.9 1031.9L1621.2 1027.2L1619.5 1022.4L1617.8 1017.7L1616.1 1013.0L1614.4 1008.2L1612.7 1003.5L1611.0 998.8L1609.4 994.0L1607.7 989.3L1606.0 984.6L1604.4 979.8L1602.7 975.1L1601.1 970.3L1599.4 965.6L1597.8 960.8L1596.2 956.1L1594.5 951.4L1592.9 946.6L1591.3 941.9L1589.7 937.1L1588.1 932.4L1586.5 927.6L1584.9 922.9L1583.3 918.1L1581.7 913.3L1580.1 908.6L1578.6 903.8L1577.0 899.1L1575.4 894.3L1573.9 889.5L1572.3 884.8L1570.8 880.0L1569.2 875.2L1567.7 870.5L1566.2 865.7L1564.6 860.9L1563.1 856.1L1561.6 851.3L1560.1 846.6L1558.6 841.8L1557.1 837.0L1555.6 832.2L1554.2 827.4L1552.7 822.6L1551.2 817.8L1549.8 813.0L1548.3 808.2L1546.9 803.4L1545.4 798.6L1544.0 793.8L1542.6 789.0L1541.2 784.2L1539.7 779.4L1538.3 774.6L1536.9 769.8L1535.6 765.0L1534.2 760.1L1532.8 755.3L1531.4 750.5L1530.1 745.7L1528.7 740.8L1527.4 736.0L1526.0 731.2L1524.7 726.3L1523.4 721.5L1522.0 716.6L1520.7 711.8L1519.4 707.0L1518.0 702.1L1516.7 697.3L1515.3 692.5L1514.0 687.6L1512.7 682.8L1511.3 677.9L1509.9 673.1L1508.6 668.3L1507.2 663.5L1505.8 658.6L1504.4 653.8L1503.0 649.0L1501.6 644.2L1500.1 639.4L1498.7 634.6L1497.2 629.8L1495.7 625.0L1494.2 620.2L1492.7 615.4L1491.2 610.7L1489.6 605.9L1488.0 601.1L1486.4 596.4L1484.8 591.6L1483.2 586.9L1481.5 582.2L1479.8 577.4L1478.1 572.7L1476.4 568.0L1474.7 563.3L1473.0 558.5L1471.3 553.8L1469.5 549.1L1467.8 544.4L1466.1 539.7L1464.3 535.0L1462.6 530.3L1460.9 525.5L1459.2 520.8L1457.5 516.1L1455.8 511.4L1454.1 506.6L1452.5 501.9L1450.8 497.2L1449.2 492.4L1447.6 487.7L1446.0 482.9L1444.4 478.1L1442.8 473.4L1441.2 468.6L1439.5 463.9L1437.9 459.1L1436.3 454.4L1434.7 449.7L1433.0 444.9L1431.3 440.2L1429.6 435.5L1427.9 430.8L1426.1 426.2L1424.3 421.5L1422.4 416.8L1420.5 412.2L1418.6 407.6L1416.6 403.0L1414.6 398.4L1412.5 393.9L1410.4 389.4L1408.2 384.9L1405.9 380.4L1403.6 375.9L1401.3 371.5L1398.9 367.1L1396.5 362.7L1394.0 358.3L1391.4 354.0L1388.8 349.7L1386.2 345.4L1383.5 341.2L1380.8 337.0L1378.0 332.8L1375.1 328.6L1372.3 324.5L1369.3 320.4L1366.4 316.4L1363.4 312.3L1360.3 308.3L1357.2 304.4L1354.1 300.4L1350.9 296.6L1347.7 292.7L1344.4 288.9L1341.1 285.1L1337.7 281.3L1334.3 277.6L1330.9 273.9L1327.4 270.3L1323.9 266.7L1320.4 263.1L1316.8 259.6L1313.2 256.1L1309.5 252.7L1305.8 249.3L1302.1 245.9L1298.3 242.6L1294.5 239.4L1290.7 236.1L1286.8 233.0L1282.9 229.8L1279.0 226.7L1275.0 223.7L1271.0 220.7L1267.0 217.7L1262.9 214.8L1258.8 212.0L1254.7 209.2L1250.5 206.4L1246.3 203.7L1241.4 202.2L1236.4 200.7L1231.5 199.1L1226.5 197.6L1221.6 196.1L1216.6 194.6L1211.7 193.1L1206.7 191.7L1201.7 190.3L1196.7 188.9L1191.7 187.5L1186.7 186.2L1181.7 185.0L1176.7 183.8L1171.6 182.7L1166.6 181.6L1161.5 180.6L1156.4 179.7L1151.4 179.7L1146.4 179.7L1141.4 179.7L1136.4 179.6L1131.4 179.6L1126.4 179.6L1121.4 179.6L1116.4 179.6L1111.4 179.6L1106.4 179.6L1101.4 179.6L1096.4 179.7L1091.4 179.7L1086.4 179.7L1081.4 179.7L1076.4 179.7L1071.3 179.6L1066.2 179.6L1061.2 179.7L1056.1 180.0L1051.1 180.3L1046.1 180.8L1041.1 181.3L1036.1 181.9L1031.1 182.6L1026.2 183.4L1021.2 184.3L1016.3 185.2L1011.3 186.2L1006.4 187.2L1001.5 188.2L996.6 189.3L991.6 190.5L986.7 191.7L981.8 192.8L976.9 194.1L972.0 195.3L967.1 196.5L962.2 197.7L957.3 198.9L952.4 200.2L947.5 201.3L942.6 202.5L937.7 203.6L932.8 204.7L927.9 205.8L922.7 206.3L917.4 206.7L912.2 207.1L906.9 207.4L901.7 207.5L896.4 207.1L891.3 206.2L886.7 203.6L881.9 202.9L876.7 203.9L871.5 204.6L866.5 205.5L861.6 206.4L856.7 207.4L851.8 208.5L846.9 209.7L842.1 210.9L837.3 212.1L832.4 213.5L827.7 214.9L822.9 216.3L818.1 217.8L813.4 219.4L808.7 221.0L803.9 222.6L799.2 224.3L794.6 226.0L789.9 227.8L785.2 229.6L780.6 231.4L775.9 233.2L771.3 235.1L766.6 236.9L762.0 238.8L757.4 240.8L752.8 242.7L748.2 244.6L743.6 246.6L739.0 248.6L734.4 250.6L729.8 252.6L725.2 254.6L720.6 256.6L716.0 258.7L711.5 260.7L706.9 262.8L702.4 264.9L697.8 267.0L693.3 269.1L688.7 271.3L684.2 273.4L679.7 275.6L675.2 277.8L670.7 280.0L666.2 282.2L661.7 284.4L657.2 286.6L652.7 288.9L648.2 291.2L643.8 293.5L639.3 295.8L634.9 298.1L630.4 300.4L626.0 302.8L621.6 305.1L617.2 307.5L612.7 309.9L608.4 312.3L604.0 314.8L599.6 317.2L595.3 319.7L590.9 322.2L586.6 324.7L582.3 327.3L578.0 329.9L573.8 332.5L569.5 335.1L565.3 337.8L561.1 340.5L556.9 343.2L552.7 345.9L548.6 348.7L544.5 351.5L540.4 354.4L536.3 357.2L532.3 360.2L528.3 363.1L524.3 366.1L520.3 369.1L516.4 372.2L512.5 375.3L508.6 378.4L504.8 381.6L501.0 384.8L497.2 388.0L493.5 391.3L489.8 394.7L486.1 398.1L482.5 401.5L478.9 405.0L475.3 408.5L471.8 412.0L468.3 415.6L464.8 419.2L461.4 422.8L457.9 426.5L454.5 430.1L451.2 433.9L447.8 437.6L444.5 441.4L441.2 445.2L437.9 449.0L434.7 452.8L431.5 456.7L428.3 460.6L425.1 464.5L421.9 468.4L418.8 472.4L415.7 476.3L412.6 480.3L409.6 484.3L406.6 488.4L403.6 492.4L400.7 496.5L397.7 500.6L394.9 504.7L392.0 508.8L389.2 513.0L386.4 517.2L383.7 521.4L381.0 525.6L378.3 529.8L375.7 534.1L373.1 538.4L370.5 542.7L368.0 547.0L365.6 551.3L363.1 555.7L360.8 560.1L358.4 564.5L356.1 568.9L353.9 573.3L351.6 577.8L349.4 582.3L347.3 586.7L345.2 591.2L343.1 595.8L341.1 600.3L339.0 604.9L337.1 609.4L335.1 614.0L333.2 618.6L331.3 623.2L329.5 627.9L327.7 632.5L325.9 637.2L324.1 641.8L322.4 646.5L320.7 651.2L319.0 655.9L317.4 660.6L315.8 665.3L314.2 670.1L312.6 674.8L311.1 679.6L309.6 684.3L308.1 689.1L306.6 693.9L305.2 698.7L303.8 703.5L302.4 708.3L301.0 713.1L299.6 717.9L298.3 722.7L297.0 727.6L295.7 732.4L294.4 737.2L293.1 742.1L291.9 746.9L290.6 751.8L289.4 756.7L288.2 761.5L287.0 766.4L285.9 771.3L284.7 776.1L283.6 781.0L282.5 785.9L281.4 790.8L280.3 795.7L279.2 800.6L278.1 805.5L277.1 810.4L276.0 815.3L275.0 820.2L274.0 825.1L273.0 830.0L272.1 834.9L271.1 839.8L270.1 844.7L269.2 849.7L268.3 854.6L267.4 859.5L266.5 864.5L265.6 869.4L264.7 874.3L263.8 879.3L263.0 884.2L262.1 889.1L261.3 894.1L260.5 899.0L259.7 904.0L258.9 908.9L258.1 913.9L257.3 918.8L256.5 923.8L255.8 928.7L255.0 933.7L254.3 938.6L253.6 943.6L252.8 948.6L252.1 953.5L251.4 958.5L250.7 963.4L250.0 968.4L249.4 973.4L248.7 978.3L248.0 983.3L247.4 988.2L246.7 993.2L246.1 998.2L245.5 1003.1L244.8 1008.1L244.2 1013.1L243.6 1018.0L243.0 1023.0L242.4 1028.0L241.8 1032.9L241.2 1037.9L240.6 1042.9L240.1 1047.9L239.5 1052.8L238.9 1057.8L238.4 1062.8L237.8 1067.7L237.3 1072.7L236.7 1077.7L236.2 1082.7L235.6 1087.6L235.1 1092.6L234.6 1097.6L234.1 1102.6L233.5 1107.5L233.0 1112.5L232.5 1117.5L232.0 1122.5L231.5 1127.4L231.0 1132.4L230.5 1137.4L230.0 1142.4L229.5 1147.4L229.0 1152.3L228.5 1157.3L228.0 1162.3L227.5 1167.3L227.0 1172.2L226.5 1177.2L226.0 1182.2L225.6 1187.2L225.1 1192.2L224.6 1197.1L224.1 1202.1L223.6 1207.1L223.1 1212.1L222.7 1217.1L222.2 1222.0L221.7 1227.0L221.2 1232.0L220.7 1237.0L220.2 1242.0L219.7 1246.9L219.3 1251.9L218.8 1256.9L218.3 1261.9L217.8 1266.9L217.3 1271.8L216.8 1276.8L216.3 1281.8L215.8 1286.8L215.3 1291.8L214.8 1296.7L214.2 1301.7L213.7 1306.7L213.2 1311.7L212.7 1316.6L212.2 1321.6L211.6 1326.6L211.1 1331.6L210.6 1336.6L210.0 1341.5L209.5 1346.5L208.9 1351.5L208.4 1356.5L207.8 1361.4L207.2 1366.4L206.7 1371.4L206.1 1376.4L205.5 1381.3L204.9 1386.3L204.3 1391.3L203.7 1396.3L203.1 1401.2L202.5 1406.2L201.9 1411.2L201.2 1416.2L200.6 1421.1L200.0 1426.1L199.3 1431.1L198.7 1436.0L198.0 1441.0Z"/>
<path d="M198.5 1444.5L199.2 1439.7L199.9 1434.9L200.6 1430.1L201.3 1425.3L201.9 1420.5L202.6 1415.7L203.2 1410.8L203.8 1405.9L204.4 1401.1L205.0 1396.2L205.6 1391.3L206.2 1386.3L206.8 1381.4L207.4 1376.5L207.9 1371.5L208.5 1366.6L209.1 1361.6L209.6 1356.7L210.2 1351.7L210.7 1346.7L211.3 1341.7L211.8 1336.7L212.4 1331.7L212.9 1326.7L213.5 1321.7L214.1 1316.7L214.6 1311.7L215.2 1306.7L215.8 1301.6L216.4 1296.6L216.9 1291.6L217.5 1286.5L218.2 1281.5L218.8 1276.5L219.4 1271.5L220.0 1266.4L220.7 1261.4L221.4 1256.4L222.0 1251.3L222.7 1246.3L223.4 1241.3L224.2 1236.3L224.9 1231.2L225.7 1226.2L226.4 1221.2L227.2 1216.2L228.1 1211.2L228.9 1206.2L229.8 1201.2L230.6 1196.3L231.5 1191.3L232.5 1186.3L233.4 1181.4L234.4 1176.4L235.4 1171.5L236.5 1166.5L237.5 1161.6L238.6 1156.7L239.7 1151.8L240.9 1146.9L242.1 1142.0L243.3 1137.2L244.5 1132.3L245.8 1127.5L247.1 1122.7L248.5 1117.8L249.9 1113.0L251.3 1108.3L252.8 1103.5L254.3 1098.7L255.8 1094.0L257.4 1089.3L259.0 1084.6L260.7 1079.9L262.4 1075.2L264.1 1070.6L265.9 1066.0L267.8 1061.3L269.6 1056.8L271.6 1052.2L273.5 1047.6L275.6 1043.1L277.6 1038.6L279.8 1034.1L281.9 1029.7L284.1 1025.2L286.4 1020.8L288.7 1016.4L291.0 1012.0L293.4 1007.7L295.9 1003.3L298.3 999.0L300.9 994.7L303.4 990.5L306.0 986.2L308.7 982.0L311.3 977.8L314.1 973.6L316.8 969.5L319.6 965.4L322.5 961.3L325.4 957.2L328.3 953.1L331.2 949.1L334.2 945.1L337.2 941.1L340.3 937.2L343.4 933.2L346.5 929.3L349.7 925.5L352.9 921.6L356.1 917.8L359.4 914.0L362.7 910.2L366.0 906.4L369.4 902.7L372.8 899.0L376.2 895.3L379.7 891.7L383.2 888.0L386.7 884.4L390.2 880.9L393.8 877.3L397.4 873.8L401.0 870.3L404.7 866.9L408.4 863.4L412.1 860.0L415.8 856.6L419.6 853.3L423.3 850.0L427.1 846.7L431.0 843.4L434.8 840.1L438.7 836.9L442.6 833.8L446.5 830.6L450.5 827.5L454.4 824.4L458.4 821.3L462.4 818.3L466.4 815.3L470.5 812.3L474.5 809.3L478.6 806.4L482.7 803.5L486.8 800.7L490.9 797.8L495.1 795.0L499.2 792.2L503.4 789.5L507.6 786.8L511.8 784.1L516.0 781.4L520.3 778.8L524.5 776.2L528.8 773.6L533.1 771.0L537.4 768.5L541.7 766.0L546.0 763.5L550.3 761.1L554.7 758.6L559.1 756.2L563.4 753.8L567.8 751.5L572.2 749.1L576.6 746.8L581.1 744.5L585.5 742.2L590.0 740.0L594.4 737.8L598.9 735.5L603.4 733.4L607.9 731.2L612.4 729.0L616.9 726.9L621.4 724.8L625.9 722.7L630.5 720.6L635.0 718.5L639.6 716.5L644.2 714.5L648.8 712.5L653.3 710.5L657.9 708.5L662.5 706.5L667.1 704.6L671.8 702.6L676.4 700.7L681.0 698.8L685.6 696.9L690.3 695.0L694.9 693.2L699.6 691.3L704.3 689.5L708.9 687.6L713.6 685.8L718.3 684.0L722.9 682.2L727.6 680.4L732.3 678.7L737.0 676.9L741.7 675.1L746.4 673.4L751.1 671.6L755.8 669.9L760.5 668.2L765.2 666.5L770.0 664.8L774.7 663.1L779.4 661.4L784.1 659.7L788.8 658.0L793.5 656.3L798.3 654.6L803.0 653.0L807.7 651.3L812.4 649.7L817.2 648.0L821.9 646.4L826.6 644.7L831.4 643.1L836.1 641.5L840.8 639.9L845.6 638.3L850.3 636.8L855.1 635.2L859.8 633.7L864.6 632.2L869.4 630.7L874.1 629.2L878.9 627.7L883.7 626.2L888.4 624.8L893.2 623.4L898.0 622.0L902.8 620.7L907.6 619.3L912.4 618.0L917.3 616.7L922.1 615.5L926.9 614.2L931.8 613.0L936.6 611.9L941.5 610.7L946.3 609.6L951.2 608.5L956.1 607.5L961.0 606.5L965.9 605.5L970.8 604.5L975.7 603.6L980.6 602.7L985.6 601.8L990.5 601.0L995.4 600.2L1000.4 599.4L1005.3 598.6L1010.3 597.9L1015.3 597.2L1020.2 596.5L1025.2 595.9L1030.2 595.2L1035.1 594.6L1040.1 594.1L1045.1 593.5L1050.1 593.0L1055.1 592.5L1060.1 592.0L1065.1 591.5L1070.1 591.0L1075.1 590.6L1080.0 590.2L1085.0 589.8L1090.0 589.4L1095.0 589.1L1100.0 588.7L1105.0 588.4L1110.0 588.1L1115.2 588.1L1120.3 588.2L1125.5 588.2L1130.7 588.6L1135.8 588.9L1140.7 590.4L1145.4 592.5L1150.1 594.8L1154.7 597.1L1159.5 599.1L1164.2 601.2L1169.1 602.7L1174.2 603.8L1179.3 603.9L1184.5 603.9L1189.7 603.7L1194.8 603.5L1200.0 603.3L1205.0 604.1L1210.0 605.1L1215.0 606.1L1219.9 607.3L1224.8 608.6L1229.7 610.1L1234.5 611.7L1239.3 613.4L1244.0 615.3L1248.6 617.4L1253.0 619.6L1257.4 622.0L1261.7 624.6L1265.8 627.3L1269.9 630.1L1273.8 633.2L1277.6 636.3L1281.3 639.6L1284.8 643.0L1288.2 646.6L1291.5 650.3L1294.7 654.1L1297.8 658.0L1300.7 662.0L1303.6 666.0L1306.5 670.2L1309.2 674.4L1311.9 678.7L1314.6 683.0L1317.2 687.3L1319.8 691.7L1322.3 696.1L1324.9 700.6L1327.4 705.0L1330.0 709.4L1332.5 713.8L1335.1 718.2L1337.7 722.5L1340.4 726.8L1343.0 731.1L1345.7 735.4L1348.3 739.7L1351.0 744.0L1353.6 748.3L1356.3 752.5L1358.9 756.8L1361.5 761.1L1364.1 765.3L1366.7 769.6L1369.2 773.9L1371.7 778.2L1374.2 782.6L1376.6 786.9L1379.0 791.3L1381.3 795.7L1383.5 800.2L1385.7 804.6L1387.8 809.2L1389.8 813.7L1391.8 818.3L1393.7 823.0L1395.6 827.6L1397.4 832.3L1399.1 837.1L1400.8 841.8L1402.4 846.6L1404.0 851.4L1405.5 856.2L1407.0 861.1L1408.5 865.9L1409.9 870.8L1411.3 875.6L1412.6 880.5L1414.0 885.4L1415.3 890.3L1416.6 895.2L1417.9 900.0L1419.2 904.9L1420.4 909.8L1421.7 914.7L1422.9 919.6L1424.1 924.4L1425.3 929.3L1426.4 934.2L1427.6 939.1L1428.7 944.0L1429.9 948.9L1431.0 953.8L1432.1 958.6L1433.2 963.5L1434.3 968.4L1435.4 973.3L1436.5 978.2L1437.5 983.1L1438.6 988.0L1439.7 992.9L1440.7 997.7L1441.8 1002.6L1442.8 1007.5L1443.8 1012.4L1444.9 1017.3L1445.9 1022.2L1447.0 1027.1L1448.0 1032.0L1449.0 1036.9L1450.1 1041.8L1451.1 1046.7L1452.1 1051.6L1453.2 1056.5L1454.2 1061.4L1455.3 1066.3L1456.3 1071.2L1457.4 1076.1L1458.4 1081.0L1459.5 1085.9L1460.6 1090.8L1461.7 1095.7L1462.8 1100.6L1463.9 1105.5L1465.0 1110.4L1466.1 1115.3L1467.3 1120.2L1468.4 1125.1L1469.6 1130.0L1470.8 1134.9L1471.9 1139.8L1473.2 1144.8L1474.4 1149.7L1475.6 1154.6L1476.9 1159.5L1478.1 1164.4L1479.4 1169.3L1480.7 1174.2L1482.1 1179.1L1483.4 1184.1L1484.8 1189.0L1486.2 1193.9L1487.7 1198.8L1489.1 1203.6L1490.7 1208.5L1492.3 1213.3L1493.9 1218.1L1495.6 1222.9L1497.4 1227.6L1499.3 1232.2L1501.3 1236.8L1503.3 1241.4L1505.5 1245.9L1507.7 1250.3L1510.1 1254.6L1512.6 1258.9L1515.2 1263.0L1517.9 1267.1L1520.8 1271.1L1523.8 1274.9L1527.0 1278.7L1530.3 1282.3L1533.8 1285.9L1537.5 1289.3L1541.3 1292.5L1545.2 1295.6L1549.3 1298.6L1553.5 1301.4L1557.9 1304.0L1562.3 1306.4L1566.9 1308.6L1571.6 1310.6L1576.4 1312.4L1581.2 1314.0L1586.2 1315.3L1586.2 1308.3L1581.2 1307.0L1576.4 1305.4L1571.6 1303.6L1566.9 1301.6L1562.3 1299.4L1557.9 1297.0L1553.5 1294.4L1549.3 1291.6L1545.2 1288.6L1541.3 1285.5L1537.5 1282.3L1533.8 1278.9L1530.3 1275.3L1527.0 1271.7L1523.8 1267.9L1520.8 1264.1L1517.9 1260.1L1515.2 1256.0L1512.6 1251.9L1510.1 1247.6L1507.7 1243.3L1505.5 1238.9L1503.3 1234.4L1501.3 1229.8L1499.3 1225.2L1497.4 1220.6L1495.6 1215.9L1493.9 1211.1L1492.3 1206.3L1490.7 1201.5L1489.1 1196.6L1487.7 1191.8L1486.2 1186.9L1484.8 1182.0L1483.4 1177.1L1482.1 1172.1L1480.7 1167.2L1479.4 1162.3L1478.1 1157.4L1476.9 1152.5L1475.6 1147.6L1474.4 1142.7L1473.2 1137.8L1471.9 1132.8L1470.8 1127.9L1469.6 1123.0L1468.4 1118.1L1467.3 1113.2L1466.1 1108.3L1465.0 1103.4L1463.9 1098.5L1462.8 1093.6L1461.7 1088.7L1460.6 1083.8L1459.5 1078.9L1458.4 1074.0L1457.4 1069.1L1456.3 1064.2L1455.3 1059.3L1454.2 1054.4L1453.2 1049.5L1452.1 1044.6L1451.1 1039.7L1450.1 1034.8L1449.0 1029.9L1448.0 1025.0L1447.0 1020.1L1445.9 1015.2L1444.9 1010.3L1443.8 1005.4L1442.8 1000.5L1441.8 995.6L1440.7 990.7L1439.7 985.9L1438.6 981.0L1437.5 976.1L1436.5 971.2L1435.4 966.3L1434.3 961.4L1433.2 956.5L1432.1 951.6L1431.0 946.8L1429.9 941.9L1428.7 937.0L1427.6 932.1L1426.4 927.2L1425.3 922.3L1424.1 917.4L1422.9 912.6L1421.7 907.7L1420.4 902.8L1419.2 897.9L1417.9 893.0L1416.6 888.2L1415.3 883.3L1414.0 878.4L1412.6 873.5L1411.3 868.6L1409.9 863.8L1408.5 858.9L1407.0 854.1L1405.5 849.2L1404.0 844.4L1402.4 839.6L1400.8 834.8L1399.1 830.1L1397.4 825.3L1395.6 820.6L1393.7 816.0L1391.8 811.3L1389.8 806.7L1387.8 802.2L1385.7 797.6L1383.5 793.2L1381.3 788.7L1379.0 784.3L1376.6 779.9L1374.2 775.6L1371.7 771.2L1369.2 766.9L1366.7 762.6L1364.1 758.3L1361.5 754.1L1358.9 749.8L1356.3 745.5L1353.6 741.3L1351.0 737.0L1348.3 732.7L1345.7 728.4L1343.0 724.1L1340.4 719.8L1337.7 715.5L1335.1 711.2L1332.5 706.8L1330.0 702.4L1327.4 698.0L1324.9 693.6L1322.3 689.1L1319.8 684.7L1317.2 680.3L1314.6 676.0L1311.9 671.7L1309.2 667.4L1306.5 663.2L1303.6 659.0L1300.7 655.0L1297.8 651.0L1294.7 647.1L1291.5 643.3L1288.2 639.6L1284.8 636.0L1281.3 632.6L1277.6 629.3L1273.8 626.2L1269.9 623.1L1265.8 620.3L1261.7 617.6L1257.4 615.0L1253.0 612.6L1248.6 610.4L1244.0 608.3L1239.3 606.4L1234.5 604.7L1229.7 603.1L1224.8 601.6L1219.9 600.3L1215.0 599.1L1210.0 598.1L1205.0 597.1L1200.0 596.3L1194.8 596.5L1189.7 596.7L1184.5 596.9L1179.3 596.9L1174.2 596.8L1169.1 595.7L1164.2 594.2L1159.5 592.1L1154.7 590.1L1150.1 587.8L1145.4 585.5L1140.7 583.4L1135.8 581.9L1130.7 581.6L1125.5 581.2L1120.3 581.2L1115.2 581.1L1110.0 581.1L1105.0 581.4L1100.0 581.7L1095.0 582.1L1090.0 582.4L1085.0 582.8L1080.0 583.2L1075.1 583.6L1070.1 584.0L1065.1 584.5L1060.1 585.0L1055.1 585.5L1050.1 586.0L1045.1 586.5L1040.1 587.1L1035.1 587.6L1030.2 588.2L1025.2 588.9L1020.2 589.5L1015.3 590.2L1010.3 590.9L1005.3 591.6L1000.4 592.4L995.4 593.2L990.5 594.0L985.6 594.8L980.6 595.7L975.7 596.6L970.8 597.5L965.9 598.5L961.0 599.5L956.1 600.5L951.2 601.5L946.3 602.6L941.5 603.7L936.6 604.9L931.8 606.0L926.9 607.2L922.1 608.5L917.3 609.7L912.4 611.0L907.6 612.3L902.8 613.7L898.0 615.0L893.2 616.4L888.4 617.8L883.7 619.2L878.9 620.7L874.1 622.2L869.4 623.7L864.6 625.2L859.8 626.7L855.1 628.2L850.3 629.8L845.6 631.3L840.8 632.9L836.1 634.5L831.4 636.1L826.6 637.7L821.9 639.4L817.2 641.0L812.4 642.7L807.7 644.3L803.0 646.0L798.3 647.6L793.5 649.3L788.8 651.0L784.1 652.7L779.4 654.4L774.7 656.1L770.0 657.8L765.2 659.5L760.5 661.2L755.8 662.9L751.1 664.6L746.4 666.4L741.7 668.1L737.0 669.9L732.3 671.7L727.6 673.4L722.9 675.2L718.3 677.0L713.6 678.8L708.9 680.6L704.3 682.5L699.6 684.3L694.9 686.2L690.3 688.0L685.6 689.9L681.0 691.8L676.4 693.7L671.8 695.6L667.1 697.6L662.5 699.5L657.9 701.5L653.3 703.5L648.8 705.5L644.2 707.5L639.6 709.5L635.0 711.5L630.5 713.6L625.9 715.7L621.4 717.8L616.9 719.9L612.4 722.0L607.9 724.2L603.4 726.4L598.9 728.5L594.4 730.8L590.0 733.0L585.5 735.2L581.1 737.5L576.6 739.8L572.2 742.1L567.8 744.5L563.4 746.8L559.1 749.2L554.7 751.6L550.3 754.1L546.0 756.5L541.7 759.0L537.4 761.5L533.1 764.0L528.8 766.6L524.5 769.2L520.3 771.8L516.0 774.4L511.8 777.1L507.6 779.8L503.4 782.5L499.2 785.2L495.1 788.0L490.9 790.8L486.8 793.7L482.7 796.5L478.6 799.4L474.5 802.3L470.5 805.3L466.4 808.3L462.4 811.3L458.4 814.3L454.4 817.4L450.5 820.5L446.5 823.6L442.6 826.8L438.7 829.9L434.8 833.1L431.0 836.4L427.1 839.7L423.3 843.0L419.6 846.3L415.8 849.6L412.1 853.0L408.4 856.4L404.7 859.9L401.0 863.3L397.4 866.8L393.8 870.3L390.2 873.9L386.7 877.4L383.2 881.0L379.7 884.7L376.2 888.3L372.8 892.0L369.4 895.7L366.0 899.4L362.7 903.2L359.4 907.0L356.1 910.8L352.9 914.6L349.7 918.5L346.5 922.3L343.4 926.2L340.3 930.2L337.2 934.1L334.2 938.1L331.2 942.1L328.3 946.1L325.4 950.2L322.5 954.3L319.6 958.4L316.8 962.5L314.1 966.6L311.3 970.8L308.7 975.0L306.0 979.2L303.4 983.5L300.9 987.7L298.3 992.0L295.9 996.3L293.4 1000.7L291.0 1005.0L288.7 1009.4L286.4 1013.8L284.1 1018.2L281.9 1022.7L279.8 1027.1L277.6 1031.6L275.6 1036.1L273.5 1040.6L271.6 1045.2L269.6 1049.8L267.8 1054.3L265.9 1059.0L264.1 1063.6L262.4 1068.2L260.7 1072.9L259.0 1077.6L257.4 1082.3L255.8 1087.0L254.3 1091.7L252.8 1096.5L251.3 1101.3L249.9 1106.0L248.5 1110.8L247.1 1115.7L245.8 1120.5L244.5 1125.3L243.3 1130.2L242.1 1135.0L240.9 1139.9L239.7 1144.8L238.6 1149.7L237.5 1154.6L236.5 1159.5L235.4 1164.5L234.4 1169.4L233.4 1174.4L232.5 1179.3L231.5 1184.3L230.6 1189.3L229.8 1194.2L228.9 1199.2L228.1 1204.2L227.2 1209.2L226.4 1214.2L225.7 1219.2L224.9 1224.2L224.2 1229.3L223.4 1234.3L222.7 1239.3L222.0 1244.3L221.4 1249.4L220.7 1254.4L220.0 1259.4L219.4 1264.5L218.8 1269.5L218.2 1274.5L217.5 1279.5L216.9 1284.6L216.4 1289.6L215.8 1294.6L215.2 1299.7L214.6 1304.7L214.1 1309.7L213.5 1314.7L212.9 1319.7L212.4 1324.7L211.8 1329.7L211.3 1334.7L210.7 1339.7L210.2 1344.7L209.6 1349.7L209.1 1354.6L208.5 1359.6L207.9 1364.5L207.4 1369.5L206.8 1374.4L206.2 1379.3L205.6 1384.3L205.0 1389.2L204.4 1394.1L203.8 1398.9L203.2 1403.8L202.6 1408.7L201.9 1413.5L201.3 1418.3L200.6 1423.1L199.9 1427.9L199.2 1432.7L198.5 1437.5Z"/>
<path d="M202.0 1441.0L202.7 1436.2L203.4 1431.4L204.1 1426.6L204.8 1421.8L205.4 1417.0L206.1 1412.2L206.7 1407.3L207.3 1402.4L207.9 1397.6L208.5 1392.7L209.1 1387.8L209.7 1382.8L210.3 1377.9L210.9 1373.0L211.4 1368.0L212.0 1363.1L212.6 1358.1L213.1 1353.2L213.7 1348.2L214.2 1343.2L214.8 1338.2L215.3 1333.2L215.9 1328.2L216.4 1323.2L217.0 1318.2L217.6 1313.2L218.1 1308.2L218.7 1303.2L219.3 1298.1L219.9 1293.1L220.4 1288.1L221.0 1283.0L221.7 1278.0L222.3 1273.0L222.9 1268.0L223.5 1262.9L224.2 1257.9L224.9 1252.9L225.5 1247.8L226.2 1242.8L226.9 1237.8L227.7 1232.8L228.4 1227.7L229.2 1222.7L229.9 1217.7L230.7 1212.7L231.6 1207.7L232.4 1202.7L233.3 1197.7L234.1 1192.8L235.0 1187.8L236.0 1182.8L236.9 1177.9L237.9 1172.9L238.9 1168.0L240.0 1163.0L241.0 1158.1L242.1 1153.2L243.2 1148.3L244.4 1143.4L245.6 1138.5L246.8 1133.7L248.0 1128.8L249.3 1124.0L250.6 1119.2L252.0 1114.3L253.4 1109.5L254.8 1104.8L256.3 1100.0L257.8 1095.2L259.3 1090.5L260.9 1085.8L262.5 1081.1L264.2 1076.4L265.9 1071.7L267.6 1067.1L269.4 1062.5L271.3 1057.8L273.1 1053.3L275.1 1048.7L277.0 1044.1L279.1 1039.6L281.1 1035.1L283.3 1030.6L285.4 1026.2L287.6 1021.7L289.9 1017.3L292.2 1012.9L294.5 1008.5L296.9 1004.2L299.4 999.8L301.8 995.5L304.4 991.2L306.9 987.0L309.5 982.7L312.2 978.5L314.8 974.3L317.6 970.1L320.3 966.0L323.1 961.9L326.0 957.8L328.9 953.7L331.8 949.6L334.7 945.6L337.7 941.6L340.7 937.6L343.8 933.7L346.9 929.7L350.0 925.8L353.2 922.0L356.4 918.1L359.6 914.3L362.9 910.5L366.2 906.7L369.5 902.9L372.9 899.2L376.3 895.5L379.7 891.8L383.2 888.2L386.7 884.5L390.2 880.9L393.7 877.4L397.3 873.8L400.9 870.3L404.5 866.8L408.2 863.4L411.9 859.9L415.6 856.5L419.3 853.1L423.1 849.8L426.8 846.5L430.6 843.2L434.5 839.9L438.3 836.6L442.2 833.4L446.1 830.3L450.0 827.1L454.0 824.0L457.9 820.9L461.9 817.8L465.9 814.8L469.9 811.8L474.0 808.8L478.0 805.8L482.1 802.9L486.2 800.0L490.3 797.2L494.4 794.3L498.6 791.5L502.7 788.7L506.9 786.0L511.1 783.3L515.3 780.6L519.5 777.9L523.8 775.3L528.0 772.7L532.3 770.1L536.6 767.5L540.9 765.0L545.2 762.5L549.5 760.0L553.8 757.6L558.2 755.1L562.6 752.7L566.9 750.3L571.3 748.0L575.7 745.6L580.1 743.3L584.6 741.0L589.0 738.7L593.5 736.5L597.9 734.3L602.4 732.0L606.9 729.9L611.4 727.7L615.9 725.5L620.4 723.4L624.9 721.3L629.4 719.2L634.0 717.1L638.5 715.0L643.1 713.0L647.7 711.0L652.3 709.0L656.8 707.0L661.4 705.0L666.0 703.0L670.6 701.1L675.3 699.1L679.9 697.2L684.5 695.3L689.1 693.4L693.8 691.5L698.4 689.7L703.1 687.8L707.8 686.0L712.4 684.1L717.1 682.3L721.8 680.5L726.4 678.7L731.1 676.9L735.8 675.2L740.5 673.4L745.2 671.6L749.9 669.9L754.6 668.1L759.3 666.4L764.0 664.7L768.7 663.0L773.5 661.3L778.2 659.6L782.9 657.9L787.6 656.2L792.3 654.5L797.0 652.8L801.8 651.1L806.5 649.5L811.2 647.8L815.9 646.2L820.7 644.5L825.4 642.9L830.1 641.2L834.9 639.6L839.6 638.0L844.3 636.4L849.1 634.8L853.8 633.3L858.6 631.7L863.3 630.2L868.1 628.7L872.9 627.2L877.6 625.7L882.4 624.2L887.2 622.7L891.9 621.3L896.7 619.9L901.5 618.5L906.3 617.2L911.1 615.8L915.9 614.5L920.8 613.2L925.6 612.0L930.4 610.7L935.3 609.5L940.1 608.4L945.0 607.2L949.8 606.1L954.7 605.0L959.6 604.0L964.5 603.0L969.4 602.0L974.3 601.0L979.2 600.1L984.1 599.2L989.1 598.3L994.0 597.5L998.9 596.7L1003.9 595.9L1008.8 595.1L1013.8 594.4L1018.8 593.7L1023.7 593.0L1028.7 592.4L1033.7 591.7L1038.6 591.1L1043.6 590.6L1048.6 590.0L1053.6 589.5L1058.6 589.0L1063.6 588.5L1068.6 588.0L1073.6 587.5L1078.6 587.1L1083.5 586.7L1088.5 586.3L1093.5 585.9L1098.5 585.6L1103.5 585.2L1108.5 584.9L1113.5 584.6L1118.7 584.6L1123.8 584.7L1129.0 584.7L1134.2 585.1L1139.3 585.4L1144.2 586.9L1148.9 589.0L1153.6 591.3L1158.2 593.6L1163.0 595.6L1167.7 597.7L1172.6 599.2L1177.7 600.3L1182.8 600.4L1188.0 600.4L1193.2 600.2L1198.3 600.0L1203.5 599.8L1208.5 600.6L1213.5 601.6L1218.5 602.6L1223.4 603.8L1228.3 605.1L1233.2 606.6L1238.0 608.2L1242.8 609.9L1247.5 611.8L1252.1 613.9L1256.5 616.1L1260.9 618.5L1265.2 621.1L1269.3 623.8L1273.4 626.6L1277.3 629.7L1281.1 632.8L1284.8 636.1L1288.3 639.5L1291.7 643.1L1295.0 646.8L1298.2 650.6L1301.3 654.5L1304.2 658.5L1307.1 662.5L1310.0 666.7L1312.7 670.9L1315.4 675.2L1318.1 679.5L1320.7 683.8L1323.3 688.2L1325.8 692.6L1328.4 697.1L1330.9 701.5L1333.5 705.9L1336.0 710.3L1338.6 714.7L1341.2 719.0L1343.9 723.3L1346.5 727.6L1349.2 731.9L1351.8 736.2L1354.5 740.5L1357.1 744.8L1359.8 749.0L1362.4 753.3L1365.0 757.6L1367.6 761.8L1370.2 766.1L1372.7 770.4L1375.2 774.7L1377.7 779.1L1380.1 783.4L1382.5 787.8L1384.8 792.2L1387.0 796.7L1389.2 801.1L1391.3 805.7L1393.3 810.2L1395.3 814.8L1397.2 819.5L1399.1 824.1L1400.9 828.8L1402.6 833.6L1404.3 838.3L1405.9 843.1L1407.5 847.9L1409.0 852.7L1410.5 857.6L1412.0 862.4L1413.4 867.3L1414.8 872.1L1416.1 877.0L1417.5 881.9L1418.8 886.8L1420.1 891.7L1421.4 896.5L1422.7 901.4L1423.9 906.3L1425.2 911.2L1426.4 916.1L1427.6 920.9L1428.8 925.8L1429.9 930.7L1431.1 935.6L1432.2 940.5L1433.4 945.4L1434.5 950.3L1435.6 955.1L1436.7 960.0L1437.8 964.9L1438.9 969.8L1440.0 974.7L1441.0 979.6L1442.1 984.5L1443.2 989.4L1444.2 994.2L1445.3 999.1L1446.3 1004.0L1447.3 1008.9L1448.4 1013.8L1449.4 1018.7L1450.5 1023.6L1451.5 1028.5L1452.5 1033.4L1453.6 1038.3L1454.6 1043.2L1455.6 1048.1L1456.7 1053.0L1457.7 1057.9L1458.8 1062.8L1459.8 1067.7L1460.9 1072.6L1461.9 1077.5L1463.0 1082.4L1464.1 1087.3L1465.2 1092.2L1466.3 1097.1L1467.4 1102.0L1468.5 1106.9L1469.6 1111.8L1470.8 1116.7L1471.9 1121.6L1473.1 1126.5L1474.3 1131.4L1475.4 1136.3L1476.7 1141.3L1477.9 1146.2L1479.1 1151.1L1480.4 1156.0L1481.6 1160.9L1482.9 1165.8L1484.2 1170.7L1485.6 1175.6L1486.9 1180.6L1488.3 1185.5L1489.7 1190.4L1491.2 1195.3L1492.6 1200.1L1494.2 1205.0L1495.8 1209.8L1497.4 1214.6L1499.1 1219.4L1500.9 1224.1L1502.8 1228.7L1504.8 1233.3L1506.8 1237.9L1509.0 1242.4L1511.2 1246.8L1513.6 1251.1L1516.1 1255.4L1518.7 1259.5L1521.4 1263.6L1524.3 1267.6L1527.3 1271.4L1530.5 1275.2L1533.8 1278.8L1537.3 1282.4L1541.0 1285.8L1544.8 1289.0L1548.7 1292.1L1552.8 1295.1L1557.0 1297.9L1561.4 1300.5L1565.8 1302.9L1570.4 1305.1L1575.1 1307.1L1579.9 1308.9L1584.7 1310.5L1589.7 1311.8L1582.7 1311.8L1577.7 1310.5L1572.9 1308.9L1568.1 1307.1L1563.4 1305.1L1558.8 1302.9L1554.4 1300.5L1550.0 1297.9L1545.8 1295.1L1541.7 1292.1L1537.8 1289.0L1534.0 1285.8L1530.3 1282.4L1526.8 1278.8L1523.5 1275.2L1520.3 1271.4L1517.3 1267.6L1514.4 1263.6L1511.7 1259.5L1509.1 1255.4L1506.6 1251.1L1504.2 1246.8L1502.0 1242.4L1499.8 1237.9L1497.8 1233.3L1495.8 1228.7L1493.9 1224.1L1492.1 1219.4L1490.4 1214.6L1488.8 1209.8L1487.2 1205.0L1485.6 1200.1L1484.2 1195.3L1482.7 1190.4L1481.3 1185.5L1479.9 1180.6L1478.6 1175.6L1477.2 1170.7L1475.9 1165.8L1474.6 1160.9L1473.4 1156.0L1472.1 1151.1L1470.9 1146.2L1469.7 1141.3L1468.4 1136.3L1467.3 1131.4L1466.1 1126.5L1464.9 1121.6L1463.8 1116.7L1462.6 1111.8L1461.5 1106.9L1460.4 1102.0L1459.3 1097.1L1458.2 1092.2L1457.1 1087.3L1456.0 1082.4L1454.9 1077.5L1453.9 1072.6L1452.8 1067.7L1451.8 1062.8L1450.7 1057.9L1449.7 1053.0L1448.6 1048.1L1447.6 1043.2L1446.6 1038.3L1445.5 1033.4L1444.5 1028.5L1443.5 1023.6L1442.4 1018.7L1441.4 1013.8L1440.3 1008.9L1439.3 1004.0L1438.3 999.1L1437.2 994.2L1436.2 989.4L1435.1 984.5L1434.0 979.6L1433.0 974.7L1431.9 969.8L1430.8 964.9L1429.7 960.0L1428.6 955.1L1427.5 950.3L1426.4 945.4L1425.2 940.5L1424.1 935.6L1422.9 930.7L1421.8 925.8L1420.6 920.9L1419.4 916.1L1418.2 911.2L1416.9 906.3L1415.7 901.4L1414.4 896.5L1413.1 891.7L1411.8 886.8L1410.5 881.9L1409.1 877.0L1407.8 872.1L1406.4 867.3L1405.0 862.4L1403.5 857.6L1402.0 852.7L1400.5 847.9L1398.9 843.1L1397.3 838.3L1395.6 833.6L1393.9 828.8L1392.1 824.1L1390.2 819.5L1388.3 814.8L1386.3 810.2L1384.3 805.7L1382.2 801.1L1380.0 796.7L1377.8 792.2L1375.5 787.8L1373.1 783.4L1370.7 779.1L1368.2 774.7L1365.7 770.4L1363.2 766.1L1360.6 761.8L1358.0 757.6L1355.4 753.3L1352.8 749.0L1350.1 744.8L1347.5 740.5L1344.8 736.2L1342.2 731.9L1339.5 727.6L1336.9 723.3L1334.2 719.0L1331.6 714.7L1329.0 710.3L1326.5 705.9L1323.9 701.5L1321.4 697.1L1318.8 692.6L1316.3 688.2L1313.7 683.8L1311.1 679.5L1308.4 675.2L1305.7 670.9L1303.0 666.7L1300.1 662.5L1297.2 658.5L1294.3 654.5L1291.2 650.6L1288.0 646.8L1284.7 643.1L1281.3 639.5L1277.8 636.1L1274.1 632.8L1270.3 629.7L1266.4 626.6L1262.3 623.8L1258.2 621.1L1253.9 618.5L1249.5 616.1L1245.1 613.9L1240.5 611.8L1235.8 609.9L1231.0 608.2L1226.2 606.6L1221.3 605.1L1216.4 603.8L1211.5 602.6L1206.5 601.6L1201.5 600.6L1196.5 599.8L1191.3 600.0L1186.2 600.2L1181.0 600.4L1175.8 600.4L1170.7 600.3L1165.6 599.2L1160.7 597.7L1156.0 595.6L1151.2 593.6L1146.6 591.3L1141.9 589.0L1137.2 586.9L1132.3 585.4L1127.2 585.1L1122.0 584.7L1116.8 584.7L1111.7 584.6L1106.5 584.6L1101.5 584.9L1096.5 585.2L1091.5 585.6L1086.5 585.9L1081.5 586.3L1076.5 586.7L1071.6 587.1L1066.6 587.5L1061.6 588.0L1056.6 588.5L1051.6 589.0L1046.6 589.5L1041.6 590.0L1036.6 590.6L1031.6 591.1L1026.7 591.7L1021.7 592.4L1016.7 593.0L1011.8 593.7L1006.8 594.4L1001.8 595.1L996.9 595.9L991.9 596.7L987.0 597.5L982.1 598.3L977.1 599.2L972.2 600.1L967.3 601.0L962.4 602.0L957.5 603.0L952.6 604.0L947.7 605.0L942.8 606.1L938.0 607.2L933.1 608.4L928.3 609.5L923.4 610.7L918.6 612.0L913.8 613.2L908.9 614.5L904.1 615.8L899.3 617.2L894.5 618.5L889.7 619.9L884.9 621.3L880.2 622.7L875.4 624.2L870.6 625.7L865.9 627.2L861.1 628.7L856.3 630.2L851.6 631.7L846.8 633.3L842.1 634.8L837.3 636.4L832.6 638.0L827.9 639.6L823.1 641.2L818.4 642.9L813.7 644.5L808.9 646.2L804.2 647.8L799.5 649.5L794.8 651.1L790.0 652.8L785.3 654.5L780.6 656.2L775.9 657.9L771.2 659.6L766.5 661.3L761.7 663.0L757.0 664.7L752.3 666.4L747.6 668.1L742.9 669.9L738.2 671.6L733.5 673.4L728.8 675.2L724.1 676.9L719.4 678.7L714.8 680.5L710.1 682.3L705.4 684.1L700.8 686.0L696.1 687.8L691.4 689.7L686.8 691.5L682.1 693.4L677.5 695.3L672.9 697.2L668.3 699.1L663.6 701.1L659.0 703.0L654.4 705.0L649.8 707.0L645.3 709.0L640.7 711.0L636.1 713.0L631.5 715.0L627.0 717.1L622.4 719.2L617.9 721.3L613.4 723.4L608.9 725.5L604.4 727.7L599.9 729.9L595.4 732.0L590.9 734.3L586.5 736.5L582.0 738.7L577.6 741.0L573.1 743.3L568.7 745.6L564.3 748.0L559.9 750.3L555.6 752.7L551.2 755.1L546.8 757.6L542.5 760.0L538.2 762.5L533.9 765.0L529.6 767.5L525.3 770.1L521.0 772.7L516.8 775.3L512.5 777.9L508.3 780.6L504.1 783.3L499.9 786.0L495.7 788.7L491.6 791.5L487.4 794.3L483.3 797.2L479.2 800.0L475.1 802.9L471.0 805.8L467.0 808.8L462.9 811.8L458.9 814.8L454.9 817.8L450.9 820.9L447.0 824.0L443.0 827.1L439.1 830.3L435.2 833.4L431.3 836.6L427.5 839.9L423.6 843.2L419.8 846.5L416.1 849.8L412.3 853.1L408.6 856.5L404.9 859.9L401.2 863.4L397.5 866.8L393.9 870.3L390.3 873.8L386.7 877.4L383.2 880.9L379.7 884.5L376.2 888.2L372.7 891.8L369.3 895.5L365.9 899.2L362.5 902.9L359.2 906.7L355.9 910.5L352.6 914.3L349.4 918.1L346.2 922.0L343.0 925.8L339.9 929.7L336.8 933.7L333.7 937.6L330.7 941.6L327.7 945.6L324.8 949.6L321.9 953.7L319.0 957.8L316.1 961.9L313.3 966.0L310.6 970.1L307.8 974.3L305.2 978.5L302.5 982.7L299.9 987.0L297.4 991.2L294.8 995.5L292.4 999.8L289.9 1004.2L287.5 1008.5L285.2 1012.9L282.9 1017.3L280.6 1021.7L278.4 1026.2L276.3 1030.6L274.1 1035.1L272.1 1039.6L270.0 1044.1L268.1 1048.7L266.1 1053.3L264.3 1057.8L262.4 1062.5L260.6 1067.1L258.9 1071.7L257.2 1076.4L255.5 1081.1L253.9 1085.8L252.3 1090.5L250.8 1095.2L249.3 1100.0L247.8 1104.8L246.4 1109.5L245.0 1114.3L243.6 1119.2L242.3 1124.0L241.0 1128.8L239.8 1133.7L238.6 1138.5L237.4 1143.4L236.2 1148.3L235.1 1153.2L234.0 1158.1L233.0 1163.0L231.9 1168.0L230.9 1172.9L229.9 1177.9L229.0 1182.8L228.0 1187.8L227.1 1192.8L226.3 1197.7L225.4 1202.7L224.6 1207.7L223.7 1212.7L222.9 1217.7L222.2 1222.7L221.4 1227.7L220.7 1232.8L219.9 1237.8L219.2 1242.8L218.5 1247.8L217.9 1252.9L217.2 1257.9L216.5 1262.9L215.9 1268.0L215.3 1273.0L214.7 1278.0L214.0 1283.0L213.4 1288.1L212.9 1293.1L212.3 1298.1L211.7 1303.2L211.1 1308.2L210.6 1313.2L210.0 1318.2L209.4 1323.2L208.9 1328.2L208.3 1333.2L207.8 1338.2L207.2 1343.2L206.7 1348.2L206.1 1353.2L205.6 1358.1L205.0 1363.1L204.4 1368.0L203.9 1373.0L203.3 1377.9L202.7 1382.8L202.1 1387.8L201.5 1392.7L200.9 1397.6L200.3 1402.4L199.7 1407.3L199.1 1412.2L198.4 1417.0L197.8 1421.8L197.1 1426.6L196.4 1431.4L195.7 1436.2L195.0 1441.0Z"/>
<path d="M195.5 1444.5L196.5 1439.7L197.5 1434.8L198.4 1430.0L199.3 1425.1L200.2 1420.2L201.0 1415.3L201.8 1410.4L202.5 1405.5L203.2 1400.6L203.9 1395.6L204.6 1390.7L205.2 1385.7L205.8 1380.7L206.4 1375.7L207.0 1370.7L207.5 1365.7L208.1 1360.7L208.6 1355.7L209.1 1350.7L209.7 1345.7L210.2 1340.7L210.7 1335.6L211.2 1330.6L211.7 1325.6L212.2 1320.6L212.7 1315.5L213.3 1310.5L213.8 1305.5L214.4 1300.5L214.9 1295.4L215.5 1290.4L216.1 1285.4L216.8 1280.4L217.4 1275.4L218.1 1270.5L218.8 1265.5L219.5 1260.5L220.3 1255.6L221.1 1250.6L221.9 1245.7L222.8 1240.7L223.7 1235.8L224.7 1230.9L225.7 1226.1L226.7 1221.2L227.8 1216.3L229.0 1211.5L230.2 1206.7L231.4 1201.9L232.8 1197.1L234.1 1192.3L235.6 1187.6L237.1 1182.9L238.7 1178.2L240.3 1173.5L242.0 1168.8L243.8 1164.2L245.7 1159.6L247.6 1155.0L249.6 1150.5L251.7 1145.9L253.9 1141.4L256.1 1136.9L258.3 1132.5L260.6 1128.0L263.0 1123.6L265.5 1119.2L267.9 1114.9L270.5 1110.5L273.0 1106.2L275.6 1101.9L278.3 1097.6L281.0 1093.4L283.7 1089.1L286.5 1084.9L289.3 1080.7L292.1 1076.6L295.0 1072.5L298.0 1068.4L300.9 1064.3L304.0 1060.3L307.0 1056.3L310.1 1052.4L313.3 1048.5L316.5 1044.6L319.7 1040.8L323.0 1037.1L326.4 1033.4L329.8 1029.7L333.2 1026.1L336.7 1022.6L340.2 1019.1L343.8 1015.6L347.4 1012.2L351.1 1008.9L354.9 1005.7L358.7 1002.5L362.5 999.3L366.4 996.3L370.4 993.3L374.3 990.3L378.4 987.4L382.4 984.5L386.5 981.7L390.7 978.9L394.9 976.2L399.1 973.5L403.3 970.8L407.6 968.2L411.8 965.6L416.2 963.0L420.5 960.5L424.8 958.0L429.2 955.5L433.6 953.0L438.0 950.6L442.4 948.1L446.8 945.7L451.2 943.3L455.6 940.8L460.0 938.4L464.5 936.0L468.9 933.6L473.3 931.2L477.7 928.8L482.1 926.3L486.5 923.9L490.9 921.4L495.3 919.0L499.6 916.5L504.0 914.0L508.3 911.6L512.7 909.1L517.0 906.6L521.4 904.1L525.7 901.7L530.1 899.2L534.4 896.7L538.7 894.2L543.1 891.8L547.4 889.3L551.7 886.8L556.1 884.4L560.4 882.0L564.8 879.5L569.1 877.1L573.5 874.7L577.8 872.3L582.2 869.9L586.6 867.5L591.0 865.1L595.4 862.8L599.8 860.5L604.2 858.2L608.6 855.9L613.0 853.6L617.5 851.3L622.0 849.1L626.4 846.9L630.9 844.7L635.4 842.5L639.9 840.4L644.5 838.3L649.0 836.2L653.5 834.1L658.1 832.0L662.7 830.0L667.3 827.9L671.8 825.9L676.4 823.9L681.0 821.9L685.7 820.0L690.3 818.0L694.9 816.1L699.5 814.1L704.2 812.2L708.8 810.3L713.4 808.4L718.1 806.5L722.7 804.6L727.4 802.7L732.0 800.9L736.7 799.0L741.3 797.1L746.0 795.3L750.7 793.4L755.3 791.6L760.0 789.8L764.6 787.9L769.3 786.1L774.0 784.3L778.6 782.5L783.3 780.7L788.0 778.9L792.6 777.1L797.3 775.3L802.0 773.5L806.7 771.8L811.4 770.0L816.0 768.2L820.7 766.5L825.4 764.7L830.1 763.0L834.8 761.3L839.5 759.5L844.2 757.8L848.9 756.1L853.6 754.4L858.3 752.7L863.0 751.0L867.7 749.3L872.4 747.6L877.1 746.0L881.8 744.3L886.5 742.6L891.2 741.0L895.9 739.3L900.7 737.7L905.4 736.1L910.1 734.4L914.8 732.8L919.6 731.2L924.3 729.6L929.0 728.0L933.8 726.4L938.5 724.9L943.3 723.3L948.0 721.7L952.8 720.1L957.5 718.6L962.3 717.0L967.0 715.5L971.8 714.0L976.6 712.5L981.3 710.9L986.1 709.4L990.9 707.9L995.6 706.4L1000.4 704.9L1005.2 703.5L1010.0 702.0L1014.8 700.5L1019.6 699.1L1024.4 697.7L1029.2 696.2L1034.0 694.8L1038.8 693.4L1043.6 692.0L1048.4 690.7L1053.3 689.3L1058.1 688.0L1062.9 686.6L1067.7 685.3L1072.6 684.0L1077.4 682.8L1082.3 681.5L1087.1 680.2L1092.0 679.0L1096.8 677.8L1101.7 676.6L1106.6 675.4L1111.4 674.3L1116.3 673.2L1121.2 672.1L1126.1 671.0L1131.0 669.9L1135.9 668.9L1140.8 667.8L1145.7 666.8L1150.6 665.9L1155.5 664.9L1160.4 664.0L1165.3 663.1L1170.3 662.2L1175.2 661.4L1180.1 660.6L1185.1 659.8L1190.0 659.0L1195.0 658.3L1199.9 657.7L1204.9 657.0L1209.9 656.5L1214.8 656.0L1219.8 655.5L1224.8 655.1L1229.7 654.8L1234.7 654.5L1239.6 654.3L1244.6 654.2L1249.6 654.2L1254.5 654.2L1259.5 654.4L1264.4 654.6L1269.4 654.9L1274.3 655.3L1279.3 655.8L1284.2 656.4L1289.2 657.0L1294.1 657.6L1299.1 658.3L1304.0 659.0L1309.0 659.7L1313.9 660.4L1318.9 661.1L1323.9 661.8L1328.8 662.6L1333.8 663.3L1338.7 664.2L1343.7 665.1L1348.6 666.2L1353.6 667.4L1358.5 668.7L1363.4 670.2L1368.2 671.8L1373.0 673.5L1377.7 675.4L1382.4 677.4L1386.9 679.5L1391.4 681.7L1395.8 684.1L1400.2 686.6L1404.4 689.3L1408.4 692.1L1412.4 695.0L1416.2 698.0L1419.9 701.2L1423.4 704.5L1426.8 708.0L1430.0 711.5L1433.1 715.2L1436.1 719.0L1438.9 722.9L1441.7 726.9L1444.3 731.0L1446.8 735.2L1449.1 739.5L1451.4 743.9L1453.6 748.4L1455.7 752.9L1457.7 757.5L1459.6 762.1L1461.5 766.8L1463.2 771.6L1464.9 776.4L1466.6 781.2L1468.2 786.1L1469.7 791.0L1471.2 795.9L1472.6 800.9L1474.0 805.8L1475.4 810.8L1476.8 815.8L1478.1 820.7L1479.4 825.7L1480.7 830.7L1482.0 835.6L1483.3 840.5L1484.6 845.4L1485.9 850.4L1487.1 855.2L1488.4 860.1L1489.6 865.0L1490.8 869.9L1492.1 874.7L1493.3 879.6L1494.5 884.4L1495.7 889.2L1496.8 894.1L1498.0 898.9L1499.2 903.7L1500.3 908.5L1501.4 913.4L1502.5 918.2L1503.7 923.0L1504.7 927.8L1505.8 932.6L1506.9 937.4L1507.9 942.3L1509.0 947.1L1510.0 951.9L1511.0 956.7L1512.0 961.6L1513.0 966.4L1514.0 971.3L1514.9 976.1L1515.8 981.0L1516.8 985.9L1517.7 990.7L1518.6 995.6L1519.4 1000.5L1520.3 1005.4L1521.2 1010.3L1522.0 1015.2L1522.8 1020.2L1523.7 1025.1L1524.5 1030.0L1525.3 1034.9L1526.0 1039.9L1526.8 1044.8L1527.6 1049.8L1528.3 1054.7L1529.1 1059.7L1529.8 1064.6L1530.5 1069.6L1531.2 1074.6L1531.9 1079.5L1532.6 1084.5L1533.3 1089.5L1534.0 1094.5L1534.7 1099.4L1535.4 1104.4L1536.0 1109.4L1536.7 1114.4L1537.3 1119.4L1537.9 1124.4L1538.6 1129.4L1539.2 1134.4L1539.8 1139.4L1540.4 1144.4L1541.1 1149.4L1541.7 1154.4L1542.3 1159.4L1542.9 1164.4L1543.5 1169.4L1544.1 1174.4L1544.7 1179.4L1545.2 1184.4L1545.8 1189.4L1546.4 1194.4L1547.0 1199.3L1547.6 1204.3L1548.1 1209.3L1548.7 1214.3L1549.3 1219.3L1549.9 1224.3L1550.5 1229.3L1551.0 1234.3L1551.6 1239.3L1552.2 1244.2L1552.8 1249.2L1553.3 1254.2L1553.9 1259.2L1554.5 1264.1L1555.1 1269.1L1555.7 1274.0L1556.3 1279.0L1556.9 1284.0L1557.5 1288.9L1558.1 1293.8L1558.7 1298.8L1559.3 1303.7L1559.9 1308.6L1560.5 1313.6L1561.1 1318.5L1561.8 1323.4L1562.4 1328.3L1562.4 1321.3L1561.8 1316.4L1561.1 1311.5L1560.5 1306.6L1559.9 1301.6L1559.3 1296.7L1558.7 1291.8L1558.1 1286.8L1557.5 1281.9L1556.9 1277.0L1556.3 1272.0L1555.7 1267.0L1555.1 1262.1L1554.5 1257.1L1553.9 1252.2L1553.3 1247.2L1552.8 1242.2L1552.2 1237.2L1551.6 1232.3L1551.0 1227.3L1550.5 1222.3L1549.9 1217.3L1549.3 1212.3L1548.7 1207.3L1548.1 1202.3L1547.6 1197.3L1547.0 1192.3L1546.4 1187.4L1545.8 1182.4L1545.2 1177.4L1544.7 1172.4L1544.1 1167.4L1543.5 1162.4L1542.9 1157.4L1542.3 1152.4L1541.7 1147.4L1541.1 1142.4L1540.4 1137.4L1539.8 1132.4L1539.2 1127.4L1538.6 1122.4L1537.9 1117.4L1537.3 1112.4L1536.7 1107.4L1536.0 1102.4L1535.4 1097.4L1534.7 1092.4L1534.0 1087.5L1533.3 1082.5L1532.6 1077.5L1531.9 1072.5L1531.2 1067.6L1530.5 1062.6L1529.8 1057.6L1529.1 1052.7L1528.3 1047.7L1527.6 1042.8L1526.8 1037.8L1526.0 1032.9L1525.3 1027.9L1524.5 1023.0L1523.7 1018.1L1522.8 1013.2L1522.0 1008.2L1521.2 1003.3L1520.3 998.4L1519.4 993.5L1518.6 988.6L1517.7 983.7L1516.8 978.9L1515.8 974.0L1514.9 969.1L1514.0 964.3L1513.0 959.4L1512.0 954.6L1511.0 949.7L1510.0 944.9L1509.0 940.1L1507.9 935.3L1506.9 930.4L1505.8 925.6L1504.7 920.8L1503.7 916.0L1502.5 911.2L1501.4 906.4L1500.3 901.5L1499.2 896.7L1498.0 891.9L1496.8 887.1L1495.7 882.2L1494.5 877.4L1493.3 872.6L1492.1 867.7L1490.8 862.9L1489.6 858.0L1488.4 853.1L1487.1 848.2L1485.9 843.4L1484.6 838.4L1483.3 833.5L1482.0 828.6L1480.7 823.7L1479.4 818.7L1478.1 813.7L1476.8 808.8L1475.4 803.8L1474.0 798.8L1472.6 793.9L1471.2 788.9L1469.7 784.0L1468.2 779.1L1466.6 774.2L1464.9 769.4L1463.2 764.6L1461.5 759.8L1459.6 755.1L1457.7 750.5L1455.7 745.9L1453.6 741.4L1451.4 736.9L1449.1 732.5L1446.8 728.2L1444.3 724.0L1441.7 719.9L1438.9 715.9L1436.1 712.0L1433.1 708.2L1430.0 704.5L1426.8 701.0L1423.4 697.5L1419.9 694.2L1416.2 691.0L1412.4 688.0L1408.4 685.1L1404.4 682.3L1400.2 679.6L1395.8 677.1L1391.4 674.7L1386.9 672.5L1382.4 670.4L1377.7 668.4L1373.0 666.5L1368.2 664.8L1363.4 663.2L1358.5 661.7L1353.6 660.4L1348.6 659.2L1343.7 658.1L1338.7 657.2L1333.8 656.3L1328.8 655.6L1323.9 654.8L1318.9 654.1L1313.9 653.4L1309.0 652.7L1304.0 652.0L1299.1 651.3L1294.1 650.6L1289.2 650.0L1284.2 649.4L1279.3 648.8L1274.3 648.3L1269.4 647.9L1264.4 647.6L1259.5 647.4L1254.5 647.2L1249.6 647.2L1244.6 647.2L1239.6 647.3L1234.7 647.5L1229.7 647.8L1224.8 648.1L1219.8 648.5L1214.8 649.0L1209.9 649.5L1204.9 650.0L1199.9 650.7L1195.0 651.3L1190.0 652.0L1185.1 652.8L1180.1 653.6L1175.2 654.4L1170.3 655.2L1165.3 656.1L1160.4 657.0L1155.5 657.9L1150.6 658.9L1145.7 659.8L1140.8 660.8L1135.9 661.9L1131.0 662.9L1126.1 664.0L1121.2 665.1L1116.3 666.2L1111.4 667.3L1106.6 668.4L1101.7 669.6L1096.8 670.8L1092.0 672.0L1087.1 673.2L1082.3 674.5L1077.4 675.8L1072.6 677.0L1067.7 678.3L1062.9 679.6L1058.1 681.0L1053.3 682.3L1048.4 683.7L1043.6 685.0L1038.8 686.4L1034.0 687.8L1029.2 689.2L1024.4 690.7L1019.6 692.1L1014.8 693.5L1010.0 695.0L1005.2 696.5L1000.4 697.9L995.6 699.4L990.9 700.9L986.1 702.4L981.3 703.9L976.6 705.5L971.8 707.0L967.0 708.5L962.3 710.0L957.5 711.6L952.8 713.1L948.0 714.7L943.3 716.3L938.5 717.9L933.8 719.4L929.0 721.0L924.3 722.6L919.6 724.2L914.8 725.8L910.1 727.4L905.4 729.1L900.7 730.7L895.9 732.3L891.2 734.0L886.5 735.6L881.8 737.3L877.1 739.0L872.4 740.6L867.7 742.3L863.0 744.0L858.3 745.7L853.6 747.4L848.9 749.1L844.2 750.8L839.5 752.5L834.8 754.3L830.1 756.0L825.4 757.7L820.7 759.5L816.0 761.2L811.4 763.0L806.7 764.8L802.0 766.5L797.3 768.3L792.6 770.1L788.0 771.9L783.3 773.7L778.6 775.5L774.0 777.3L769.3 779.1L764.6 780.9L760.0 782.8L755.3 784.6L750.7 786.4L746.0 788.3L741.3 790.1L736.7 792.0L732.0 793.9L727.4 795.7L722.7 797.6L718.1 799.5L713.4 801.4L708.8 803.3L704.2 805.2L699.5 807.1L694.9 809.1L690.3 811.0L685.7 813.0L681.0 814.9L676.4 816.9L671.8 818.9L667.3 820.9L662.7 823.0L658.1 825.0L653.5 827.1L649.0 829.2L644.5 831.3L639.9 833.4L635.4 835.5L630.9 837.7L626.4 839.9L622.0 842.1L617.5 844.3L613.0 846.6L608.6 848.9L604.2 851.2L599.8 853.5L595.4 855.8L591.0 858.1L586.6 860.5L582.2 862.9L577.8 865.3L573.5 867.7L569.1 870.1L564.8 872.5L560.4 875.0L556.1 877.4L551.7 879.8L547.4 882.3L543.1 884.8L538.7 887.2L534.4 889.7L530.1 892.2L525.7 894.7L521.4 897.1L517.0 899.6L512.7 902.1L508.3 904.6L504.0 907.0L499.6 909.5L495.3 912.0L490.9 914.4L486.5 916.9L482.1 919.3L477.7 921.8L473.3 924.2L468.9 926.6L464.5 929.0L460.0 931.4L455.6 933.8L451.2 936.3L446.8 938.7L442.4 941.1L438.0 943.6L433.6 946.0L429.2 948.5L424.8 951.0L420.5 953.5L416.2 956.0L411.8 958.6L407.6 961.2L403.3 963.8L399.1 966.5L394.9 969.2L390.7 971.9L386.5 974.7L382.4 977.5L378.4 980.4L374.3 983.3L370.4 986.3L366.4 989.3L362.5 992.3L358.7 995.5L354.9 998.7L351.1 1001.9L347.4 1005.2L343.8 1008.6L340.2 1012.1L336.7 1015.6L333.2 1019.1L329.8 1022.7L326.4 1026.4L323.0 1030.1L319.7 1033.8L316.5 1037.6L313.3 1041.5L310.1 1045.4L307.0 1049.3L304.0 1053.3L300.9 1057.3L298.0 1061.4L295.0 1065.5L292.1 1069.6L289.3 1073.7L286.5 1077.9L283.7 1082.1L281.0 1086.4L278.3 1090.6L275.6 1094.9L273.0 1099.2L270.5 1103.5L267.9 1107.9L265.5 1112.2L263.0 1116.6L260.6 1121.0L258.3 1125.5L256.1 1129.9L253.9 1134.4L251.7 1138.9L249.6 1143.5L247.6 1148.0L245.7 1152.6L243.8 1157.2L242.0 1161.8L240.3 1166.5L238.7 1171.2L237.1 1175.9L235.6 1180.6L234.1 1185.3L232.8 1190.1L231.4 1194.9L230.2 1199.7L229.0 1204.5L227.8 1209.3L226.7 1214.2L225.7 1219.1L224.7 1223.9L223.7 1228.8L222.8 1233.7L221.9 1238.7L221.1 1243.6L220.3 1248.6L219.5 1253.5L218.8 1258.5L218.1 1263.5L217.4 1268.4L216.8 1273.4L216.1 1278.4L215.5 1283.4L214.9 1288.4L214.4 1293.5L213.8 1298.5L213.3 1303.5L212.7 1308.5L212.2 1313.6L211.7 1318.6L211.2 1323.6L210.7 1328.6L210.2 1333.7L209.7 1338.7L209.1 1343.7L208.6 1348.7L208.1 1353.7L207.5 1358.7L207.0 1363.7L206.4 1368.7L205.8 1373.7L205.2 1378.7L204.6 1383.7L203.9 1388.6L203.2 1393.6L202.5 1398.5L201.8 1403.4L201.0 1408.3L200.2 1413.2L199.3 1418.1L198.4 1423.0L197.5 1427.8L196.5 1432.7L195.5 1437.5Z"/>
<path d="M199.0 1441.0L200.0 1436.2L201.0 1431.3L201.9 1426.5L202.8 1421.6L203.7 1416.7L204.5 1411.8L205.3 1406.9L206.0 1402.0L206.7 1397.1L207.4 1392.1L208.1 1387.2L208.7 1382.2L209.3 1377.2L209.9 1372.2L210.5 1367.2L211.0 1362.2L211.6 1357.2L212.1 1352.2L212.6 1347.2L213.2 1342.2L213.7 1337.2L214.2 1332.1L214.7 1327.1L215.2 1322.1L215.7 1317.1L216.2 1312.0L216.8 1307.0L217.3 1302.0L217.9 1297.0L218.4 1291.9L219.0 1286.9L219.6 1281.9L220.3 1276.9L220.9 1271.9L221.6 1267.0L222.3 1262.0L223.0 1257.0L223.8 1252.1L224.6 1247.1L225.4 1242.2L226.3 1237.2L227.2 1232.3L228.2 1227.4L229.2 1222.6L230.2 1217.7L231.3 1212.8L232.5 1208.0L233.7 1203.2L234.9 1198.4L236.3 1193.6L237.6 1188.8L239.1 1184.1L240.6 1179.4L242.2 1174.7L243.8 1170.0L245.5 1165.3L247.3 1160.7L249.2 1156.1L251.1 1151.5L253.1 1147.0L255.2 1142.4L257.4 1137.9L259.6 1133.4L261.8 1129.0L264.1 1124.5L266.5 1120.1L269.0 1115.7L271.4 1111.4L274.0 1107.0L276.5 1102.7L279.1 1098.4L281.8 1094.1L284.5 1089.9L287.2 1085.6L290.0 1081.4L292.8 1077.2L295.6 1073.1L298.5 1069.0L301.5 1064.9L304.4 1060.8L307.5 1056.8L310.5 1052.8L313.6 1048.9L316.8 1045.0L320.0 1041.1L323.2 1037.3L326.5 1033.6L329.9 1029.9L333.3 1026.2L336.7 1022.6L340.2 1019.1L343.7 1015.6L347.3 1012.1L350.9 1008.7L354.6 1005.4L358.4 1002.2L362.2 999.0L366.0 995.8L369.9 992.8L373.9 989.8L377.8 986.8L381.9 983.9L385.9 981.0L390.0 978.2L394.2 975.4L398.4 972.7L402.6 970.0L406.8 967.3L411.1 964.7L415.3 962.1L419.7 959.5L424.0 957.0L428.3 954.5L432.7 952.0L437.1 949.5L441.5 947.1L445.9 944.6L450.3 942.2L454.7 939.8L459.1 937.3L463.5 934.9L468.0 932.5L472.4 930.1L476.8 927.7L481.2 925.3L485.6 922.8L490.0 920.4L494.4 917.9L498.8 915.5L503.1 913.0L507.5 910.5L511.8 908.1L516.2 905.6L520.5 903.1L524.9 900.6L529.2 898.2L533.6 895.7L537.9 893.2L542.2 890.7L546.6 888.3L550.9 885.8L555.2 883.3L559.6 880.9L563.9 878.5L568.3 876.0L572.6 873.6L577.0 871.2L581.3 868.8L585.7 866.4L590.1 864.0L594.5 861.6L598.9 859.3L603.3 857.0L607.7 854.7L612.1 852.4L616.5 850.1L621.0 847.8L625.5 845.6L629.9 843.4L634.4 841.2L638.9 839.0L643.4 836.9L648.0 834.8L652.5 832.7L657.0 830.6L661.6 828.5L666.2 826.5L670.8 824.4L675.3 822.4L679.9 820.4L684.5 818.4L689.2 816.5L693.8 814.5L698.4 812.6L703.0 810.6L707.7 808.7L712.3 806.8L716.9 804.9L721.6 803.0L726.2 801.1L730.9 799.2L735.5 797.4L740.2 795.5L744.8 793.6L749.5 791.8L754.2 789.9L758.8 788.1L763.5 786.3L768.1 784.4L772.8 782.6L777.5 780.8L782.1 779.0L786.8 777.2L791.5 775.4L796.1 773.6L800.8 771.8L805.5 770.0L810.2 768.3L814.9 766.5L819.5 764.7L824.2 763.0L828.9 761.2L833.6 759.5L838.3 757.8L843.0 756.0L847.7 754.3L852.4 752.6L857.1 750.9L861.8 749.2L866.5 747.5L871.2 745.8L875.9 744.1L880.6 742.5L885.3 740.8L890.0 739.1L894.7 737.5L899.4 735.8L904.2 734.2L908.9 732.6L913.6 730.9L918.3 729.3L923.1 727.7L927.8 726.1L932.5 724.5L937.3 722.9L942.0 721.4L946.8 719.8L951.5 718.2L956.3 716.6L961.0 715.1L965.8 713.5L970.5 712.0L975.3 710.5L980.1 709.0L984.8 707.4L989.6 705.9L994.4 704.4L999.1 702.9L1003.9 701.4L1008.7 700.0L1013.5 698.5L1018.3 697.0L1023.1 695.6L1027.9 694.2L1032.7 692.7L1037.5 691.3L1042.3 689.9L1047.1 688.5L1051.9 687.2L1056.8 685.8L1061.6 684.5L1066.4 683.1L1071.2 681.8L1076.1 680.5L1080.9 679.3L1085.8 678.0L1090.6 676.7L1095.5 675.5L1100.3 674.3L1105.2 673.1L1110.1 671.9L1114.9 670.8L1119.8 669.7L1124.7 668.6L1129.6 667.5L1134.5 666.4L1139.4 665.4L1144.3 664.3L1149.2 663.3L1154.1 662.4L1159.0 661.4L1163.9 660.5L1168.8 659.6L1173.8 658.7L1178.7 657.9L1183.6 657.1L1188.6 656.3L1193.5 655.5L1198.5 654.8L1203.4 654.2L1208.4 653.5L1213.4 653.0L1218.3 652.5L1223.3 652.0L1228.3 651.6L1233.2 651.3L1238.2 651.0L1243.1 650.8L1248.1 650.7L1253.1 650.7L1258.0 650.7L1263.0 650.9L1267.9 651.1L1272.9 651.4L1277.8 651.8L1282.8 652.3L1287.7 652.9L1292.7 653.5L1297.6 654.1L1302.6 654.8L1307.5 655.5L1312.5 656.2L1317.4 656.9L1322.4 657.6L1327.4 658.3L1332.3 659.1L1337.3 659.8L1342.2 660.7L1347.2 661.6L1352.1 662.7L1357.1 663.9L1362.0 665.2L1366.9 666.7L1371.7 668.3L1376.5 670.0L1381.2 671.9L1385.9 673.9L1390.4 676.0L1394.9 678.2L1399.3 680.6L1403.7 683.1L1407.9 685.8L1411.9 688.6L1415.9 691.5L1419.7 694.5L1423.4 697.7L1426.9 701.0L1430.3 704.5L1433.5 708.0L1436.6 711.7L1439.6 715.5L1442.4 719.4L1445.2 723.4L1447.8 727.5L1450.3 731.7L1452.6 736.0L1454.9 740.4L1457.1 744.9L1459.2 749.4L1461.2 754.0L1463.1 758.6L1465.0 763.3L1466.7 768.1L1468.4 772.9L1470.1 777.7L1471.7 782.6L1473.2 787.5L1474.7 792.4L1476.1 797.4L1477.5 802.3L1478.9 807.3L1480.3 812.3L1481.6 817.2L1482.9 822.2L1484.2 827.2L1485.5 832.1L1486.8 837.0L1488.1 841.9L1489.4 846.9L1490.6 851.7L1491.9 856.6L1493.1 861.5L1494.3 866.4L1495.6 871.2L1496.8 876.1L1498.0 880.9L1499.2 885.7L1500.3 890.6L1501.5 895.4L1502.7 900.2L1503.8 905.0L1504.9 909.9L1506.0 914.7L1507.2 919.5L1508.2 924.3L1509.3 929.1L1510.4 933.9L1511.4 938.8L1512.5 943.6L1513.5 948.4L1514.5 953.2L1515.5 958.1L1516.5 962.9L1517.5 967.8L1518.4 972.6L1519.3 977.5L1520.3 982.4L1521.2 987.2L1522.1 992.1L1522.9 997.0L1523.8 1001.9L1524.7 1006.8L1525.5 1011.7L1526.3 1016.7L1527.2 1021.6L1528.0 1026.5L1528.8 1031.4L1529.5 1036.4L1530.3 1041.3L1531.1 1046.3L1531.8 1051.2L1532.6 1056.2L1533.3 1061.1L1534.0 1066.1L1534.7 1071.1L1535.4 1076.0L1536.1 1081.0L1536.8 1086.0L1537.5 1091.0L1538.2 1095.9L1538.9 1100.9L1539.5 1105.9L1540.2 1110.9L1540.8 1115.9L1541.4 1120.9L1542.1 1125.9L1542.7 1130.9L1543.3 1135.9L1543.9 1140.9L1544.6 1145.9L1545.2 1150.9L1545.8 1155.9L1546.4 1160.9L1547.0 1165.9L1547.6 1170.9L1548.2 1175.9L1548.7 1180.9L1549.3 1185.9L1549.9 1190.9L1550.5 1195.8L1551.1 1200.8L1551.6 1205.8L1552.2 1210.8L1552.8 1215.8L1553.4 1220.8L1554.0 1225.8L1554.5 1230.8L1555.1 1235.8L1555.7 1240.7L1556.3 1245.7L1556.8 1250.7L1557.4 1255.7L1558.0 1260.6L1558.6 1265.6L1559.2 1270.5L1559.8 1275.5L1560.4 1280.5L1561.0 1285.4L1561.6 1290.3L1562.2 1295.3L1562.8 1300.2L1563.4 1305.1L1564.0 1310.1L1564.6 1315.0L1565.3 1319.9L1565.9 1324.8L1558.9 1324.8L1558.3 1319.9L1557.6 1315.0L1557.0 1310.1L1556.4 1305.1L1555.8 1300.2L1555.2 1295.3L1554.6 1290.3L1554.0 1285.4L1553.4 1280.5L1552.8 1275.5L1552.2 1270.5L1551.6 1265.6L1551.0 1260.6L1550.4 1255.7L1549.8 1250.7L1549.3 1245.7L1548.7 1240.7L1548.1 1235.8L1547.5 1230.8L1547.0 1225.8L1546.4 1220.8L1545.8 1215.8L1545.2 1210.8L1544.6 1205.8L1544.1 1200.8L1543.5 1195.8L1542.9 1190.9L1542.3 1185.9L1541.7 1180.9L1541.2 1175.9L1540.6 1170.9L1540.0 1165.9L1539.4 1160.9L1538.8 1155.9L1538.2 1150.9L1537.6 1145.9L1536.9 1140.9L1536.3 1135.9L1535.7 1130.9L1535.1 1125.9L1534.4 1120.9L1533.8 1115.9L1533.2 1110.9L1532.5 1105.9L1531.9 1100.9L1531.2 1095.9L1530.5 1091.0L1529.8 1086.0L1529.1 1081.0L1528.4 1076.0L1527.7 1071.1L1527.0 1066.1L1526.3 1061.1L1525.6 1056.2L1524.8 1051.2L1524.1 1046.3L1523.3 1041.3L1522.5 1036.4L1521.8 1031.4L1521.0 1026.5L1520.2 1021.6L1519.3 1016.7L1518.5 1011.7L1517.7 1006.8L1516.8 1001.9L1515.9 997.0L1515.1 992.1L1514.2 987.2L1513.3 982.4L1512.3 977.5L1511.4 972.6L1510.5 967.8L1509.5 962.9L1508.5 958.1L1507.5 953.2L1506.5 948.4L1505.5 943.6L1504.4 938.8L1503.4 933.9L1502.3 929.1L1501.2 924.3L1500.2 919.5L1499.0 914.7L1497.9 909.9L1496.8 905.0L1495.7 900.2L1494.5 895.4L1493.3 890.6L1492.2 885.7L1491.0 880.9L1489.8 876.1L1488.6 871.2L1487.3 866.4L1486.1 861.5L1484.9 856.6L1483.6 851.7L1482.4 846.9L1481.1 841.9L1479.8 837.0L1478.5 832.1L1477.2 827.2L1475.9 822.2L1474.6 817.2L1473.3 812.3L1471.9 807.3L1470.5 802.3L1469.1 797.4L1467.7 792.4L1466.2 787.5L1464.7 782.6L1463.1 777.7L1461.4 772.9L1459.7 768.1L1458.0 763.3L1456.1 758.6L1454.2 754.0L1452.2 749.4L1450.1 744.9L1447.9 740.4L1445.6 736.0L1443.3 731.7L1440.8 727.5L1438.2 723.4L1435.4 719.4L1432.6 715.5L1429.6 711.7L1426.5 708.0L1423.3 704.5L1419.9 701.0L1416.4 697.7L1412.7 694.5L1408.9 691.5L1404.9 688.6L1400.9 685.8L1396.7 683.1L1392.3 680.6L1387.9 678.2L1383.4 676.0L1378.9 673.9L1374.2 671.9L1369.5 670.0L1364.7 668.3L1359.9 666.7L1355.0 665.2L1350.1 663.9L1345.1 662.7L1340.2 661.6L1335.2 660.7L1330.3 659.8L1325.3 659.1L1320.4 658.3L1315.4 657.6L1310.4 656.9L1305.5 656.2L1300.5 655.5L1295.6 654.8L1290.6 654.1L1285.7 653.5L1280.7 652.9L1275.8 652.3L1270.8 651.8L1265.9 651.4L1260.9 651.1L1256.0 650.9L1251.0 650.7L1246.1 650.7L1241.1 650.7L1236.1 650.8L1231.2 651.0L1226.2 651.3L1221.3 651.6L1216.3 652.0L1211.3 652.5L1206.4 653.0L1201.4 653.5L1196.4 654.2L1191.5 654.8L1186.5 655.5L1181.6 656.3L1176.6 657.1L1171.7 657.9L1166.8 658.7L1161.8 659.6L1156.9 660.5L1152.0 661.4L1147.1 662.4L1142.2 663.3L1137.3 664.3L1132.4 665.4L1127.5 666.4L1122.6 667.5L1117.7 668.6L1112.8 669.7L1107.9 670.8L1103.1 671.9L1098.2 673.1L1093.3 674.3L1088.5 675.5L1083.6 676.7L1078.8 678.0L1073.9 679.3L1069.1 680.5L1064.2 681.8L1059.4 683.1L1054.6 684.5L1049.8 685.8L1044.9 687.2L1040.1 688.5L1035.3 689.9L1030.5 691.3L1025.7 692.7L1020.9 694.2L1016.1 695.6L1011.3 697.0L1006.5 698.5L1001.7 700.0L996.9 701.4L992.1 702.9L987.4 704.4L982.6 705.9L977.8 707.4L973.1 709.0L968.3 710.5L963.5 712.0L958.8 713.5L954.0 715.1L949.3 716.6L944.5 718.2L939.8 719.8L935.0 721.4L930.3 722.9L925.5 724.5L920.8 726.1L916.1 727.7L911.3 729.3L906.6 730.9L901.9 732.6L897.2 734.2L892.4 735.8L887.7 737.5L883.0 739.1L878.3 740.8L873.6 742.5L868.9 744.1L864.2 745.8L859.5 747.5L854.8 749.2L850.1 750.9L845.4 752.6L840.7 754.3L836.0 756.0L831.3 757.8L826.6 759.5L821.9 761.2L817.2 763.0L812.5 764.7L807.9 766.5L803.2 768.3L798.5 770.0L793.8 771.8L789.1 773.6L784.5 775.4L779.8 777.2L775.1 779.0L770.5 780.8L765.8 782.6L761.1 784.4L756.5 786.3L751.8 788.1L747.2 789.9L742.5 791.8L737.8 793.6L733.2 795.5L728.5 797.4L723.9 799.2L719.2 801.1L714.6 803.0L709.9 804.9L705.3 806.8L700.7 808.7L696.0 810.6L691.4 812.6L686.8 814.5L682.2 816.5L677.5 818.4L672.9 820.4L668.3 822.4L663.8 824.4L659.2 826.5L654.6 828.5L650.0 830.6L645.5 832.7L641.0 834.8L636.4 836.9L631.9 839.0L627.4 841.2L622.9 843.4L618.5 845.6L614.0 847.8L609.5 850.1L605.1 852.4L600.7 854.7L596.3 857.0L591.9 859.3L587.5 861.6L583.1 864.0L578.7 866.4L574.3 868.8L570.0 871.2L565.6 873.6L561.3 876.0L556.9 878.5L552.6 880.9L548.2 883.3L543.9 885.8L539.6 888.3L535.2 890.7L530.9 893.2L526.6 895.7L522.2 898.2L517.9 900.6L513.5 903.1L509.2 905.6L504.8 908.1L500.5 910.5L496.1 913.0L491.8 915.5L487.4 917.9L483.0 920.4L478.6 922.8L474.2 925.3L469.8 927.7L465.4 930.1L461.0 932.5L456.5 934.9L452.1 937.3L447.7 939.8L443.3 942.2L438.9 944.6L434.5 947.1L430.1 949.5L425.7 952.0L421.3 954.5L417.0 957.0L412.7 959.5L408.3 962.1L404.1 964.7L399.8 967.3L395.6 970.0L391.4 972.7L387.2 975.4L383.0 978.2L378.9 981.0L374.9 983.9L370.8 986.8L366.9 989.8L362.9 992.8L359.0 995.8L355.2 999.0L351.4 1002.2L347.6 1005.4L343.9 1008.7L340.3 1012.1L336.7 1015.6L333.2 1019.1L329.7 1022.6L326.3 1026.2L322.9 1029.9L319.5 1033.6L316.2 1037.3L313.0 1041.1L309.8 1045.0L306.6 1048.9L303.5 1052.8L300.5 1056.8L297.4 1060.8L294.5 1064.9L291.5 1069.0L288.6 1073.1L285.8 1077.2L283.0 1081.4L280.2 1085.6L277.5 1089.9L274.8 1094.1L272.1 1098.4L269.5 1102.7L267.0 1107.0L264.4 1111.4L262.0 1115.7L259.5 1120.1L257.1 1124.5L254.8 1129.0L252.6 1133.4L250.4 1137.9L248.2 1142.4L246.1 1147.0L244.1 1151.5L242.2 1156.1L240.3 1160.7L238.5 1165.3L236.8 1170.0L235.2 1174.7L233.6 1179.4L232.1 1184.1L230.6 1188.8L229.3 1193.6L227.9 1198.4L226.7 1203.2L225.5 1208.0L224.3 1212.8L223.2 1217.7L222.2 1222.6L221.2 1227.4L220.2 1232.3L219.3 1237.2L218.4 1242.2L217.6 1247.1L216.8 1252.1L216.0 1257.0L215.3 1262.0L214.6 1267.0L213.9 1271.9L213.3 1276.9L212.6 1281.9L212.0 1286.9L211.4 1291.9L210.9 1297.0L210.3 1302.0L209.8 1307.0L209.2 1312.0L208.7 1317.1L208.2 1322.1L207.7 1327.1L207.2 1332.1L206.7 1337.2L206.2 1342.2L205.6 1347.2L205.1 1352.2L204.6 1357.2L204.0 1362.2L203.5 1367.2L202.9 1372.2L202.3 1377.2L201.7 1382.2L201.1 1387.2L200.4 1392.1L199.7 1397.1L199.0 1402.0L198.3 1406.9L197.5 1411.8L196.7 1416.7L195.8 1421.6L194.9 1426.5L194.0 1431.3L193.0 1436.2L192.0 1441.0Z"/>
</g>
<text class="b" transform="translate(166.4 1457.5) scale(0.940 1)" font-size="65.5" text-anchor="end">0</text>
<text class="b" transform="translate(166.4 1284.0) scale(0.940 1)" font-size="65.5" text-anchor="end">1</text>
<text class="b" transform="translate(166.4 1110.4) scale(0.940 1)" font-size="65.5" text-anchor="end">2</text>
<text class="b" transform="translate(166.4 936.9) scale(0.940 1)" font-size="65.5" text-anchor="end">3</text>
<text class="b" transform="translate(166.4 763.4) scale(0.940 1)" font-size="65.5" text-anchor="end">4</text>
<text class="b" transform="translate(166.4 589.8) scale(0.940 1)" font-size="65.5" text-anchor="end">5</text>
<text class="b" transform="translate(166.4 416.3) scale(0.940 1)" font-size="65.5" text-anchor="end">6</text>
<text class="b" transform="translate(166.4 242.7) scale(0.940 1)" font-size="65.5" text-anchor="end">7</text>
<text class="b" transform="translate(166.4 69.2) scale(0.940 1)" font-size="65.5" text-anchor="end">8</text>
<text class="b" transform="translate(196.0 1512) scale(0.940 1)" font-size="65.5" text-anchor="middle">0</text>
<text class="b" transform="translate(577.9 1512) scale(0.940 1)" font-size="65.5" text-anchor="middle">50</text>
<text class="b" transform="translate(953.0 1512) scale(0.940 1)" font-size="65.5" text-anchor="middle">100</text>
<text class="b" transform="translate(1341.1 1512) scale(0.940 1)" font-size="65.5" text-anchor="middle">150</text>
<text class="b" transform="translate(1714.5 1512) scale(0.940 1)" font-size="65.5" text-anchor="middle">200</text>
<text transform="translate(953 1607.8) scale(0.972 1)" font-size="98" text-anchor="middle">Strain (wt%)</text>
<text transform="translate(84.5 779) rotate(-90) scale(0.976 1)" font-size="98" text-anchor="middle" word-spacing="22">Stress (MPa)</text>
<g class="b" font-size="72.6" stroke="#fdfdfb" stroke-width="1.6" letter-spacing="-0.55">
<text x="926.6" y="343.6">ID</text>
<text transform="translate(1015.7 334.4) scale(1 0.693)" stroke="none">=</text>
<text x="1079.2" y="343.6">340 µm</text>
<text x="885.2" y="534.6">ID</text>
<text transform="translate(974.3 525.4) scale(1 0.693)" stroke="none">=</text>
<text x="1037.8" y="534.6">260 µm</text>
<text x="926.6" y="886.6">ID</text>
<text transform="translate(1015.7 877.4) scale(1 0.693)" stroke="none">=</text>
<text x="1079.2" y="886.6">160 µm</text>
</g>
<g fill="#fdfdfb"><rect x="135.8" y="1276.7" width="10.8" height="8.8"/><rect x="155.0" y="1276.7" width="10.1" height="8.8"/><rect x="905.3" y="1504.7" width="10.8" height="8.8"/><rect x="924.5" y="1504.7" width="10.1" height="8.8"/><rect x="1293.4" y="1504.7" width="10.8" height="8.8"/><rect x="1312.6" y="1504.7" width="10.1" height="8.8"/><rect x="1083.4" y="878.6" width="13.5" height="9.5"/><rect x="1105.3" y="878.6" width="12.7" height="9.5"/></g>
<g stroke="#181818" stroke-width="7" fill="#181818">
<path d="M914.7 284.5L852 240" fill="none"/><path d="M837 229L866 229L846 257Z" stroke="none"/>
<path d="M884.5 544.9V586" fill="none" stroke-width="7.5"/><path d="M867.2 583.5H901.5L884.4 598.7Z" stroke="none"/>
<path d="M927.7 834.7L864 791" fill="none"/><path d="M850 781.5L878 781L859.5 807Z" stroke="none"/>
</g>
</svg></body></html>
